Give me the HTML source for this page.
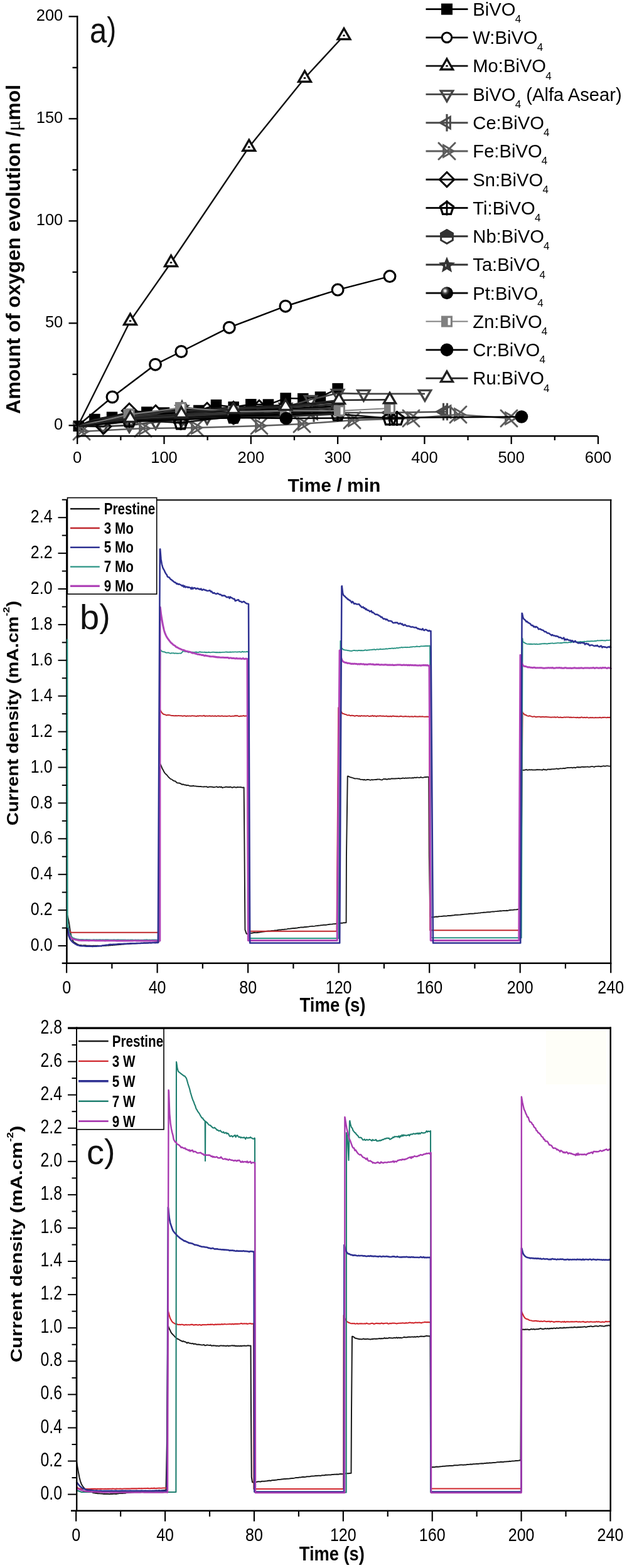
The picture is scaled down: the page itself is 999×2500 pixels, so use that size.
<!DOCTYPE html>
<html lang="en"><head><meta charset="utf-8"><title>Figure</title>
<style>
html,body{margin:0;padding:0;background:#fff}
svg{display:block}
text{font-family:"Liberation Sans",Arial,sans-serif}
</style></head><body>
<svg width="999" height="2500" viewBox="0 0 999 2500">
<defs>
<radialGradient id="ballg" cx="0.36" cy="0.32" r="0.62"><stop offset="0" stop-color="#fff"/><stop offset="0.12" stop-color="#ddd"/><stop offset="0.3" stop-color="#555"/><stop offset="0.55" stop-color="#111"/><stop offset="1" stop-color="#000"/></radialGradient>
</defs>
<rect width="999" height="2500" fill="#fff"/>
<polyline points="125.27,679.3 150.86,668.52 178.52,665.26 206.18,660.37 233.84,657.11 261.5,658.09 289.16,652.22 316.82,654.5 344.48,645.7 372.14,648.96 399.8,644.72 427.46,645.05 455.12,634.94 482.78,635.59 510.44,632.99 538.1,619.62" fill="none" stroke="#000" stroke-width="2.5" stroke-linejoin="round"/><rect x="116.52" y="670.55" width="17.5" height="17.5" fill="#000"/><rect x="142.11" y="659.77" width="17.5" height="17.5" fill="#000"/><rect x="169.77" y="656.51" width="17.5" height="17.5" fill="#000"/><rect x="197.43" y="651.62" width="17.5" height="17.5" fill="#000"/><rect x="225.09" y="648.36" width="17.5" height="17.5" fill="#000"/><rect x="252.75" y="649.34" width="17.5" height="17.5" fill="#000"/><rect x="280.41" y="643.47" width="17.5" height="17.5" fill="#000"/><rect x="308.07" y="645.75" width="17.5" height="17.5" fill="#000"/><rect x="335.73" y="636.95" width="17.5" height="17.5" fill="#000"/><rect x="363.39" y="640.21" width="17.5" height="17.5" fill="#000"/><rect x="391.05" y="635.97" width="17.5" height="17.5" fill="#000"/><rect x="418.71" y="636.3" width="17.5" height="17.5" fill="#000"/><rect x="446.37" y="626.19" width="17.5" height="17.5" fill="#000"/><rect x="474.03" y="626.84" width="17.5" height="17.5" fill="#000"/><rect x="501.69" y="624.24" width="17.5" height="17.5" fill="#000"/><rect x="529.35" y="610.87" width="17.5" height="17.5" fill="#000"/>
<polyline points="125.27,679.3 164,680 206,678 248,673 289,669 330,665 372,661 413,656 455,649 495,637 538,627 579.4,627.9 677,627.9" fill="none" stroke="#444" stroke-width="2.8" stroke-linejoin="round"/><polygon points="164,691.14 154.35,674.43 173.65,674.43" fill="none" stroke="#444" stroke-width="3.4" stroke-linejoin="miter"/><polygon points="206,689.14 196.35,672.43 215.65,672.43" fill="none" stroke="#444" stroke-width="3.4" stroke-linejoin="miter"/><polygon points="248,684.14 238.35,667.43 257.65,667.43" fill="none" stroke="#444" stroke-width="3.4" stroke-linejoin="miter"/><polygon points="289,680.14 279.35,663.43 298.65,663.43" fill="none" stroke="#444" stroke-width="3.4" stroke-linejoin="miter"/><polygon points="330,676.14 320.35,659.43 339.65,659.43" fill="none" stroke="#444" stroke-width="3.4" stroke-linejoin="miter"/><polygon points="372,672.14 362.35,655.43 381.65,655.43" fill="none" stroke="#444" stroke-width="3.4" stroke-linejoin="miter"/><polygon points="413,667.14 403.35,650.43 422.65,650.43" fill="none" stroke="#444" stroke-width="3.4" stroke-linejoin="miter"/><polygon points="455,660.14 445.35,643.43 464.65,643.43" fill="none" stroke="#444" stroke-width="3.4" stroke-linejoin="miter"/><polygon points="495,648.14 485.35,631.43 504.65,631.43" fill="none" stroke="#444" stroke-width="3.4" stroke-linejoin="miter"/><polygon points="538,638.14 528.35,621.43 547.65,621.43" fill="none" stroke="#444" stroke-width="3.4" stroke-linejoin="miter"/><polygon points="579.4,639.04 569.75,622.33 589.05,622.33" fill="none" stroke="#444" stroke-width="3.4" stroke-linejoin="miter"/><polygon points="677,639.04 667.35,622.33 686.65,622.33" fill="none" stroke="#444" stroke-width="3.4" stroke-linejoin="miter"/>
<polyline points="125.27,679.3 164,676 206,672 289,668 372,664 455,660 500,659 538,658 620,658 706.5,656.5 712.5,656.5" fill="none" stroke="#4a4a4a" stroke-width="2.5" stroke-linejoin="round"/><polygon points="195.43,672 211.28,662.85 211.28,681.15" fill="none" stroke="#4a4a4a" stroke-width="3.2" stroke-linejoin="miter"/><line x1="206" y1="658.2" x2="206" y2="685.8" stroke="#4a4a4a" stroke-width="3.2"/><polygon points="278.43,668 294.28,658.85 294.28,677.15" fill="none" stroke="#4a4a4a" stroke-width="3.2" stroke-linejoin="miter"/><line x1="289" y1="654.2" x2="289" y2="681.8" stroke="#4a4a4a" stroke-width="3.2"/><polygon points="361.43,664 377.28,654.85 377.28,673.15" fill="none" stroke="#4a4a4a" stroke-width="3.2" stroke-linejoin="miter"/><line x1="372" y1="650.2" x2="372" y2="677.8" stroke="#4a4a4a" stroke-width="3.2"/><polygon points="444.43,660 460.28,650.85 460.28,669.15" fill="none" stroke="#4a4a4a" stroke-width="3.2" stroke-linejoin="miter"/><line x1="455" y1="646.2" x2="455" y2="673.8" stroke="#4a4a4a" stroke-width="3.2"/><polygon points="489.43,659 505.28,649.85 505.28,668.15" fill="none" stroke="#4a4a4a" stroke-width="3.2" stroke-linejoin="miter"/><line x1="500" y1="645.2" x2="500" y2="672.8" stroke="#4a4a4a" stroke-width="3.2"/><polygon points="527.43,658 543.28,648.85 543.28,667.15" fill="none" stroke="#4a4a4a" stroke-width="3.2" stroke-linejoin="miter"/><line x1="538" y1="644.2" x2="538" y2="671.8" stroke="#4a4a4a" stroke-width="3.2"/><polygon points="609.43,658 625.28,648.85 625.28,667.15" fill="none" stroke="#4a4a4a" stroke-width="3.2" stroke-linejoin="miter"/><line x1="620" y1="644.2" x2="620" y2="671.8" stroke="#4a4a4a" stroke-width="3.2"/><polygon points="695.93,656.5 711.78,647.35 711.78,665.65" fill="none" stroke="#4a4a4a" stroke-width="3.2" stroke-linejoin="miter"/><line x1="706.5" y1="642.7" x2="706.5" y2="670.3" stroke="#4a4a4a" stroke-width="3.2"/><polygon points="701.93,656.5 717.78,647.35 717.78,665.65" fill="none" stroke="#4a4a4a" stroke-width="3.2" stroke-linejoin="miter"/><line x1="712.5" y1="642.7" x2="712.5" y2="670.3" stroke="#4a4a4a" stroke-width="3.2"/>
<polyline points="125.27,679.3 130,688 228,683 311,682 413,679 481,676 561,670 655,667 730,661 811,667" fill="none" stroke="#5c5c5c" stroke-width="2.5" stroke-linejoin="round"/><polygon points="140.68,688 124.66,697.25 124.66,678.75" fill="none" stroke="#5c5c5c" stroke-width="3" stroke-linejoin="miter"/><line x1="117" y1="675" x2="143" y2="701" stroke="#5c5c5c" stroke-width="3" stroke-linecap="round"/><line x1="117" y1="701" x2="143" y2="675" stroke="#5c5c5c" stroke-width="3" stroke-linecap="round"/><polygon points="238.68,683 222.66,692.25 222.66,673.75" fill="none" stroke="#5c5c5c" stroke-width="3" stroke-linejoin="miter"/><line x1="215" y1="670" x2="241" y2="696" stroke="#5c5c5c" stroke-width="3" stroke-linecap="round"/><line x1="215" y1="696" x2="241" y2="670" stroke="#5c5c5c" stroke-width="3" stroke-linecap="round"/><polygon points="321.68,682 305.66,691.25 305.66,672.75" fill="none" stroke="#5c5c5c" stroke-width="3" stroke-linejoin="miter"/><line x1="298" y1="669" x2="324" y2="695" stroke="#5c5c5c" stroke-width="3" stroke-linecap="round"/><line x1="298" y1="695" x2="324" y2="669" stroke="#5c5c5c" stroke-width="3" stroke-linecap="round"/><polygon points="423.68,679 407.66,688.25 407.66,669.75" fill="none" stroke="#5c5c5c" stroke-width="3" stroke-linejoin="miter"/><line x1="400" y1="666" x2="426" y2="692" stroke="#5c5c5c" stroke-width="3" stroke-linecap="round"/><line x1="400" y1="692" x2="426" y2="666" stroke="#5c5c5c" stroke-width="3" stroke-linecap="round"/><polygon points="491.68,676 475.66,685.25 475.66,666.75" fill="none" stroke="#5c5c5c" stroke-width="3" stroke-linejoin="miter"/><line x1="468" y1="663" x2="494" y2="689" stroke="#5c5c5c" stroke-width="3" stroke-linecap="round"/><line x1="468" y1="689" x2="494" y2="663" stroke="#5c5c5c" stroke-width="3" stroke-linecap="round"/><polygon points="571.68,670 555.66,679.25 555.66,660.75" fill="none" stroke="#5c5c5c" stroke-width="3" stroke-linejoin="miter"/><line x1="548" y1="657" x2="574" y2="683" stroke="#5c5c5c" stroke-width="3" stroke-linecap="round"/><line x1="548" y1="683" x2="574" y2="657" stroke="#5c5c5c" stroke-width="3" stroke-linecap="round"/><polygon points="665.68,667 649.66,676.25 649.66,657.75" fill="none" stroke="#5c5c5c" stroke-width="3" stroke-linejoin="miter"/><line x1="642" y1="654" x2="668" y2="680" stroke="#5c5c5c" stroke-width="3" stroke-linecap="round"/><line x1="642" y1="680" x2="668" y2="654" stroke="#5c5c5c" stroke-width="3" stroke-linecap="round"/><polygon points="740.68,661 724.66,670.25 724.66,651.75" fill="none" stroke="#5c5c5c" stroke-width="3" stroke-linejoin="miter"/><line x1="717" y1="648" x2="743" y2="674" stroke="#5c5c5c" stroke-width="3" stroke-linecap="round"/><line x1="717" y1="674" x2="743" y2="648" stroke="#5c5c5c" stroke-width="3" stroke-linecap="round"/><polygon points="821.68,667 805.66,676.25 805.66,657.75" fill="none" stroke="#5c5c5c" stroke-width="3" stroke-linejoin="miter"/><line x1="798" y1="654" x2="824" y2="680" stroke="#5c5c5c" stroke-width="3" stroke-linecap="round"/><line x1="798" y1="680" x2="824" y2="654" stroke="#5c5c5c" stroke-width="3" stroke-linecap="round"/>
<polyline points="125.27,679.3 165,680 206,655 248,658 289,655 330,654 372,652 413,650 455,648" fill="none" stroke="#111" stroke-width="2.5" stroke-linejoin="round"/><polygon points="165,668.3 176.7,680 165,691.7 153.3,680" fill="none" stroke="#000" stroke-width="3" stroke-linejoin="miter"/><polygon points="206,643.3 217.7,655 206,666.7 194.3,655" fill="none" stroke="#000" stroke-width="3" stroke-linejoin="miter"/><polygon points="248,646.3 259.7,658 248,669.7 236.3,658" fill="none" stroke="#000" stroke-width="3" stroke-linejoin="miter"/><polygon points="289,643.3 300.7,655 289,666.7 277.3,655" fill="none" stroke="#000" stroke-width="3" stroke-linejoin="miter"/><polygon points="330,642.3 341.7,654 330,665.7 318.3,654" fill="none" stroke="#000" stroke-width="3" stroke-linejoin="miter"/><polygon points="372,640.3 383.7,652 372,663.7 360.3,652" fill="none" stroke="#000" stroke-width="3" stroke-linejoin="miter"/><polygon points="413,638.3 424.7,650 413,661.7 401.3,650" fill="none" stroke="#000" stroke-width="3" stroke-linejoin="miter"/><polygon points="455,636.3 466.7,648 455,659.7 443.3,648" fill="none" stroke="#000" stroke-width="3" stroke-linejoin="miter"/>
<polyline points="125.27,679.3 206,670 288,674 372,664 455,662 538,660 621,667 632.5,667" fill="none" stroke="#111" stroke-width="2.5" stroke-linejoin="round"/><polygon points="206,660 216.46,667.6 212.47,679.9 199.53,679.9 195.54,667.6" fill="none" stroke="#000" stroke-width="3.3" stroke-linejoin="miter" stroke-linejoin="round"/><line x1="194" y1="670" x2="218" y2="670" stroke="#000" stroke-width="2.8"/><line x1="206" y1="658" x2="206" y2="682" stroke="#000" stroke-width="2.8"/><polygon points="288,664 298.46,671.6 294.47,683.9 281.53,683.9 277.54,671.6" fill="none" stroke="#000" stroke-width="3.3" stroke-linejoin="miter" stroke-linejoin="round"/><line x1="276" y1="674" x2="300" y2="674" stroke="#000" stroke-width="2.8"/><line x1="288" y1="662" x2="288" y2="686" stroke="#000" stroke-width="2.8"/><polygon points="372,654 382.46,661.6 378.47,673.9 365.53,673.9 361.54,661.6" fill="none" stroke="#000" stroke-width="3.3" stroke-linejoin="miter" stroke-linejoin="round"/><line x1="360" y1="664" x2="384" y2="664" stroke="#000" stroke-width="2.8"/><line x1="372" y1="652" x2="372" y2="676" stroke="#000" stroke-width="2.8"/><polygon points="455,652 465.46,659.6 461.47,671.9 448.53,671.9 444.54,659.6" fill="none" stroke="#000" stroke-width="3.3" stroke-linejoin="miter" stroke-linejoin="round"/><line x1="443" y1="662" x2="467" y2="662" stroke="#000" stroke-width="2.8"/><line x1="455" y1="650" x2="455" y2="674" stroke="#000" stroke-width="2.8"/><polygon points="538,650 548.46,657.6 544.47,669.9 531.53,669.9 527.54,657.6" fill="none" stroke="#000" stroke-width="3.3" stroke-linejoin="miter" stroke-linejoin="round"/><line x1="526" y1="660" x2="550" y2="660" stroke="#000" stroke-width="2.8"/><line x1="538" y1="648" x2="538" y2="672" stroke="#000" stroke-width="2.8"/><polygon points="621,657 631.46,664.6 627.47,676.9 614.53,676.9 610.54,664.6" fill="none" stroke="#000" stroke-width="3.3" stroke-linejoin="miter" stroke-linejoin="round"/><line x1="609" y1="667" x2="633" y2="667" stroke="#000" stroke-width="2.8"/><line x1="621" y1="655" x2="621" y2="679" stroke="#000" stroke-width="2.8"/><polygon points="632.5,657 642.96,664.6 638.97,676.9 626.03,676.9 622.04,664.6" fill="none" stroke="#000" stroke-width="3.3" stroke-linejoin="miter" stroke-linejoin="round"/><line x1="620.5" y1="667" x2="644.5" y2="667" stroke="#000" stroke-width="2.8"/><line x1="632.5" y1="655" x2="632.5" y2="679" stroke="#000" stroke-width="2.8"/>
<polyline points="125.27,679.3 135,675 150,669 178,664 206,658 248,656 289,653 330,652 372,650 413,648 455,646 495,644 538,641" fill="none" stroke="#111" stroke-width="3" stroke-linejoin="round"/>
<polyline points="125.27,679.3 135,675.67 150,670.33 178,665.83 206,660.33 248,658.33 289,655.5 330,654.5 372,652.67 413,650.83 455,649 495,647 538,644.17" fill="none" stroke="#2a2a2a" stroke-width="3" stroke-linejoin="round"/>
<polyline points="125.27,679.3 135,676.33 150,671.67 178,667.67 206,662.67 248,660.67 289,658 330,657 372,655.33 413,653.67 455,652 495,650 538,647.33" fill="none" stroke="#000" stroke-width="3" stroke-linejoin="round"/>
<polyline points="125.27,679.3 135,677 150,673 178,669.5 206,665 248,663 289,660.5 330,659.5 372,658 413,656.5 455,655 495,653 538,650.5" fill="none" stroke="#333" stroke-width="3" stroke-linejoin="round"/>
<polyline points="125.27,679.3 135,677.67 150,674.33 178,671.33 206,667.33 248,665.33 289,663 330,662 372,660.67 413,659.33 455,658 495,656 538,653.67" fill="none" stroke="#1a1a1a" stroke-width="3" stroke-linejoin="round"/>
<polyline points="125.27,679.3 135,678.33 150,675.67 178,673.17 206,669.67 248,667.67 289,665.5 330,664.5 372,663.33 413,662.17 455,661 495,659 538,656.83" fill="none" stroke="#000" stroke-width="3" stroke-linejoin="round"/>
<polyline points="125.27,679.3 135,679 150,677 178,675 206,672 248,670 289,668 330,667 372,666 413,665 455,664 495,662 538,660" fill="none" stroke="#2a2a2a" stroke-width="3" stroke-linejoin="round"/>
<polyline points="125.27,679.3 206,668 289,664 372,659 455,654 538,650" fill="none" stroke="#333" stroke-width="2.5" stroke-linejoin="round"/><polygon points="455,644 464.35,649.4 464.35,660.2 455,665.6 445.65,660.2 445.65,649.4" fill="#fff" stroke="#333" stroke-width="3" stroke-linejoin="miter"/><polygon points="445.65,654.8 445.65,649.4 455,644 464.35,649.4 464.35,654.8" fill="#333" stroke="#333" stroke-width="3" stroke-linejoin="miter"/><polygon points="538,640 547.35,645.4 547.35,656.2 538,661.6 528.65,656.2 528.65,645.4" fill="#fff" stroke="#333" stroke-width="3" stroke-linejoin="miter"/><polygon points="528.65,650.8 528.65,645.4 538,640 547.35,645.4 547.35,650.8" fill="#333" stroke="#333" stroke-width="3" stroke-linejoin="miter"/>
<polyline points="125.27,679.3 164,674 206,663 248,660 290,649 330,654 372,651 413,650 455,648 495,646" fill="none" stroke="#333" stroke-width="2.5" stroke-linejoin="round"/>
<polygon points="290,638.2 293.12,645.7 301.22,646.35 295.05,651.64 296.94,659.55 290,655.31 283.06,659.55 284.95,651.64 278.78,646.35 286.88,645.7" fill="#333" stroke="#333" stroke-width="1.5" stroke-linejoin="miter"/><rect x="287.5" y="648" width="1.6" height="4" fill="#ccc"/>
<polyline points="125.27,679.3 206,671 289,666 372,662 455,658 538,654" fill="none" stroke="#111" stroke-width="2.5" stroke-linejoin="round"/><circle cx="455" cy="658" r="10" fill="url(#ballg)"/><circle cx="538" cy="654" r="10" fill="url(#ballg)"/>
<polyline points="125.27,679.3 205.5,661 288,650 372,656 455,655 541,655 621,651" fill="none" stroke="#808080" stroke-width="2.2" stroke-linejoin="round"/><rect x="196.5" y="652" width="18" height="18" fill="#808080"/><rect x="207.1" y="655.3" width="4.2" height="11.5" fill="#fff"/><rect x="279" y="641" width="18" height="18" fill="#808080"/><rect x="289.6" y="644.3" width="4.2" height="11.5" fill="#fff"/><rect x="363" y="647" width="18" height="18" fill="#808080"/><rect x="373.6" y="650.3" width="4.2" height="11.5" fill="#fff"/><rect x="446" y="646" width="18" height="18" fill="#808080"/><rect x="456.6" y="649.3" width="4.2" height="11.5" fill="#fff"/><rect x="532" y="646" width="18" height="18" fill="#808080"/><rect x="542.6" y="649.3" width="4.2" height="11.5" fill="#fff"/><rect x="612" y="642" width="18" height="18" fill="#808080"/><rect x="622.6" y="645.3" width="4.2" height="11.5" fill="#fff"/>
<polyline points="125.27,679.3 206,672 289,669 373,666 456,667 831,664.5" fill="none" stroke="#000" stroke-width="2.5" stroke-linejoin="round"/><circle cx="373" cy="666" r="10.3" fill="#000"/><circle cx="456" cy="667" r="10.3" fill="#000"/><circle cx="831" cy="664.5" r="10.3" fill="#000"/>
<polyline points="125.27,679.3 207.5,667 289,660 372,653 455,648 540,638 621,637.3" fill="none" stroke="#222" stroke-width="2.5" stroke-linejoin="round"/><polygon points="207.5,656.03 217,672.48 198,672.48" fill="#fff" stroke="#222" stroke-width="3.4" stroke-linejoin="miter"/><polygon points="289,649.03 298.5,665.48 279.5,665.48" fill="#fff" stroke="#222" stroke-width="3.4" stroke-linejoin="miter"/><polygon points="372,642.03 381.5,658.48 362.5,658.48" fill="#fff" stroke="#222" stroke-width="3.4" stroke-linejoin="miter"/><polygon points="455,637.03 464.5,653.48 445.5,653.48" fill="#fff" stroke="#222" stroke-width="3.4" stroke-linejoin="miter"/><polygon points="540,627.03 549.5,643.48 530.5,643.48" fill="#fff" stroke="#222" stroke-width="3.4" stroke-linejoin="miter"/><polygon points="621,626.33 630.5,642.78 611.5,642.78" fill="#fff" stroke="#222" stroke-width="3.4" stroke-linejoin="miter"/>
<polyline points="124.58,678.3 179,633 247.5,581.2 288.75,560.5 365.3,522.2 454.9,488.2 538.1,462.1 621,440.6" fill="none" stroke="#000" stroke-width="2.5" stroke-linejoin="round"/><circle cx="179" cy="633" r="8.9" fill="#fff" stroke="#000" stroke-width="3.2"/><circle cx="247.5" cy="581.2" r="8.9" fill="#fff" stroke="#000" stroke-width="3.2"/><circle cx="288.75" cy="560.5" r="8.9" fill="#fff" stroke="#000" stroke-width="3.2"/><circle cx="365.3" cy="522.2" r="8.9" fill="#fff" stroke="#000" stroke-width="3.2"/><circle cx="454.9" cy="488.2" r="8.9" fill="#fff" stroke="#000" stroke-width="3.2"/><circle cx="538.1" cy="462.1" r="8.9" fill="#fff" stroke="#000" stroke-width="3.2"/><circle cx="621" cy="440.6" r="8.9" fill="#fff" stroke="#000" stroke-width="3.2"/>
<polyline points="124.58,678.3 207.5,511.75 272.5,418.75 396.75,234.5 485.5,124.5 548,56.75" fill="none" stroke="#111" stroke-width="2.5" stroke-linejoin="round"/><polygon points="207.5,500.32 217.4,517.47 197.6,517.47" fill="#fff" stroke="#111" stroke-width="3.4" stroke-linejoin="miter"/><ellipse cx="207.5" cy="511.75" rx="2" ry="1.4" fill="#111"/><polygon points="272.5,407.32 282.4,424.47 262.6,424.47" fill="#fff" stroke="#111" stroke-width="3.4" stroke-linejoin="miter"/><ellipse cx="272.5" cy="418.75" rx="2" ry="1.4" fill="#111"/><polygon points="396.75,223.07 406.65,240.22 386.85,240.22" fill="#fff" stroke="#111" stroke-width="3.4" stroke-linejoin="miter"/><ellipse cx="396.75" cy="234.5" rx="2" ry="1.4" fill="#111"/><polygon points="485.5,113.07 495.4,130.22 475.6,130.22" fill="#fff" stroke="#111" stroke-width="3.4" stroke-linejoin="miter"/><ellipse cx="485.5" cy="124.5" rx="2" ry="1.4" fill="#111"/><polygon points="548,45.32 557.9,62.47 538.1,62.47" fill="#fff" stroke="#111" stroke-width="3.4" stroke-linejoin="miter"/><ellipse cx="548" cy="56.75" rx="2" ry="1.4" fill="#111"/>
<line x1="123.2" y1="25" x2="123.2" y2="696.5" stroke="#000" stroke-width="2.5"/>
<line x1="122" y1="695.3" x2="952.5" y2="695.3" stroke="#000" stroke-width="2.5"/>
<line x1="109.5" y1="678.3" x2="123.2" y2="678.3" stroke="#000" stroke-width="2.3"/>
<text x="100.3" y="685.2" font-size="25.5" font-weight="normal" text-anchor="end" fill="#000">0</text>
<line x1="115.5" y1="596.8" x2="123.2" y2="596.8" stroke="#000" stroke-width="2.3"/>
<line x1="109.5" y1="515.3" x2="123.2" y2="515.3" stroke="#000" stroke-width="2.3"/>
<text x="100.3" y="522.2" font-size="25.5" font-weight="normal" text-anchor="end" fill="#000">50</text>
<line x1="115.5" y1="433.8" x2="123.2" y2="433.8" stroke="#000" stroke-width="2.3"/>
<line x1="109.5" y1="352.3" x2="123.2" y2="352.3" stroke="#000" stroke-width="2.3"/>
<text x="100.3" y="359.2" font-size="25.5" font-weight="normal" text-anchor="end" fill="#000">100</text>
<line x1="115.5" y1="270.8" x2="123.2" y2="270.8" stroke="#000" stroke-width="2.3"/>
<line x1="109.5" y1="189.3" x2="123.2" y2="189.3" stroke="#000" stroke-width="2.3"/>
<text x="100.3" y="196.2" font-size="25.5" font-weight="normal" text-anchor="end" fill="#000">150</text>
<line x1="115.5" y1="107.8" x2="123.2" y2="107.8" stroke="#000" stroke-width="2.3"/>
<line x1="109.5" y1="26.3" x2="123.2" y2="26.3" stroke="#000" stroke-width="2.3"/>
<text x="100.3" y="33.2" font-size="25.5" font-weight="normal" text-anchor="end" fill="#000">200</text>
<line x1="123.2" y1="695.3" x2="123.2" y2="708" stroke="#000" stroke-width="2.3"/>
<text x="123.2" y="737.6" font-size="25.5" font-weight="normal" text-anchor="middle" fill="#000">0</text>
<line x1="192.35" y1="695.3" x2="192.35" y2="702" stroke="#000" stroke-width="2.3"/>
<line x1="261.5" y1="695.3" x2="261.5" y2="708" stroke="#000" stroke-width="2.3"/>
<text x="261.5" y="737.6" font-size="25.5" font-weight="normal" text-anchor="middle" fill="#000">100</text>
<line x1="330.65" y1="695.3" x2="330.65" y2="702" stroke="#000" stroke-width="2.3"/>
<line x1="399.8" y1="695.3" x2="399.8" y2="708" stroke="#000" stroke-width="2.3"/>
<text x="399.8" y="737.6" font-size="25.5" font-weight="normal" text-anchor="middle" fill="#000">200</text>
<line x1="468.95" y1="695.3" x2="468.95" y2="702" stroke="#000" stroke-width="2.3"/>
<line x1="538.1" y1="695.3" x2="538.1" y2="708" stroke="#000" stroke-width="2.3"/>
<text x="538.1" y="737.6" font-size="25.5" font-weight="normal" text-anchor="middle" fill="#000">300</text>
<line x1="607.25" y1="695.3" x2="607.25" y2="702" stroke="#000" stroke-width="2.3"/>
<line x1="676.4" y1="695.3" x2="676.4" y2="708" stroke="#000" stroke-width="2.3"/>
<text x="676.4" y="737.6" font-size="25.5" font-weight="normal" text-anchor="middle" fill="#000">400</text>
<line x1="745.55" y1="695.3" x2="745.55" y2="702" stroke="#000" stroke-width="2.3"/>
<line x1="814.7" y1="695.3" x2="814.7" y2="708" stroke="#000" stroke-width="2.3"/>
<text x="814.7" y="737.6" font-size="25.5" font-weight="normal" text-anchor="middle" fill="#000">500</text>
<line x1="883.85" y1="695.3" x2="883.85" y2="702" stroke="#000" stroke-width="2.3"/>
<line x1="953" y1="695.3" x2="953" y2="708" stroke="#000" stroke-width="2.3"/>
<text x="953" y="737.6" font-size="25.5" font-weight="normal" text-anchor="middle" fill="#000">600</text>
<text x="532.5" y="783.8" font-size="30" font-weight="bold" text-anchor="middle" fill="#000">Time / min</text>
<text transform="translate(32,397.4) rotate(-90)" font-size="32.1" font-weight="bold" text-anchor="middle">Amount of oxygen evolution /<tspan font-family="'Liberation Serif', serif" font-weight="normal">μ</tspan>mol</text>
<text transform="translate(143,67.5) scale(0.86,1)" font-size="57" fill="#111">a<tspan font-size="52" dy="-3.5">)</tspan></text>
<line x1="678.5" y1="14.6" x2="745.5" y2="14.6" stroke="#000" stroke-width="2.9"/>
<rect x="703" y="5.6" width="18" height="18" fill="#000"/>
<text x="753.3" y="24.9" font-size="29.2">BiVO<tspan font-size="17" dy="11.2" dx="-0.8">4</tspan></text>
<line x1="678.5" y1="59.87" x2="745.5" y2="59.87" stroke="#000" stroke-width="2.9"/>
<circle cx="712" cy="59.87" r="7.8" fill="#fff" stroke="#000" stroke-width="3.1"/>
<text x="753.3" y="70.17" font-size="29.2">W:BiVO<tspan font-size="17" dy="11.2" dx="-0.8">4</tspan></text>
<line x1="678.5" y1="105.14" x2="745.5" y2="105.14" stroke="#111" stroke-width="2.9"/>
<polygon points="712,94 721.65,110.71 702.35,110.71" fill="#fff" stroke="#111" stroke-width="3.4" stroke-linejoin="miter"/><ellipse cx="712" cy="105.14" rx="2" ry="1.4" fill="#111"/>
<text x="753.3" y="115.44" font-size="29.2">Mo:BiVO<tspan font-size="17" dy="11.2" dx="-0.8">4</tspan></text>
<line x1="678.5" y1="150.41" x2="745.5" y2="150.41" stroke="#444" stroke-width="2.9"/>
<polygon points="712,161.55 702.35,144.84 721.65,144.84" fill="none" stroke="#444" stroke-width="3.4" stroke-linejoin="miter"/>
<text x="753.3" y="160.71" font-size="29.2">BiVO<tspan font-size="17" dy="11.2" dx="-0.8">4</tspan><tspan dy="-11.2"> (Alfa Asear)</tspan></text>
<line x1="678.5" y1="195.68" x2="745.5" y2="195.68" stroke="#4a4a4a" stroke-width="2.9"/>
<polygon points="701.43,195.68 717.28,186.53 717.28,204.83" fill="none" stroke="#4a4a4a" stroke-width="3.2" stroke-linejoin="miter"/><line x1="712" y1="181.88" x2="712" y2="209.48" stroke="#4a4a4a" stroke-width="3.2"/>
<text x="753.3" y="205.98" font-size="29.2">Ce:BiVO<tspan font-size="17" dy="11.2" dx="-0.8">4</tspan></text>
<line x1="678.5" y1="240.95" x2="745.5" y2="240.95" stroke="#5c5c5c" stroke-width="2.9"/>
<polygon points="722.68,240.95 706.66,250.2 706.66,231.7" fill="none" stroke="#5c5c5c" stroke-width="3" stroke-linejoin="miter"/><line x1="699" y1="227.95" x2="725" y2="253.95" stroke="#5c5c5c" stroke-width="3" stroke-linecap="round"/><line x1="699" y1="253.95" x2="725" y2="227.95" stroke="#5c5c5c" stroke-width="3" stroke-linecap="round"/>
<text x="753.3" y="251.25" font-size="29.2">Fe:BiVO<tspan font-size="17" dy="11.2" dx="-0.8">4</tspan></text>
<line x1="678.5" y1="286.22" x2="745.5" y2="286.22" stroke="#111" stroke-width="2.9"/>
<polygon points="712,274.52 723.7,286.22 712,297.92 700.3,286.22" fill="none" stroke="#000" stroke-width="3" stroke-linejoin="miter"/>
<text x="753.3" y="296.52" font-size="29.2">Sn:BiVO<tspan font-size="17" dy="11.2" dx="-0.8">4</tspan></text>
<line x1="678.5" y1="331.49" x2="745.5" y2="331.49" stroke="#111" stroke-width="2.9"/>
<polygon points="712,321.49 722.46,329.09 718.47,341.39 705.53,341.39 701.54,329.09" fill="none" stroke="#000" stroke-width="3.3" stroke-linejoin="miter" stroke-linejoin="round"/><line x1="700" y1="331.49" x2="724" y2="331.49" stroke="#000" stroke-width="2.8"/><line x1="712" y1="319.49" x2="712" y2="343.49" stroke="#000" stroke-width="2.8"/>
<text x="753.3" y="341.79" font-size="29.2">Ti:BiVO<tspan font-size="17" dy="11.2" dx="-0.8">4</tspan></text>
<line x1="678.5" y1="376.76" x2="745.5" y2="376.76" stroke="#333" stroke-width="2.9"/>
<polygon points="712,366.76 721.35,372.16 721.35,382.96 712,388.36 702.65,382.96 702.65,372.16" fill="#fff" stroke="#333" stroke-width="3" stroke-linejoin="miter"/><polygon points="702.65,377.56 702.65,372.16 712,366.76 721.35,372.16 721.35,377.56" fill="#333" stroke="#333" stroke-width="3" stroke-linejoin="miter"/>
<text x="753.3" y="387.06" font-size="29.2">Nb:BiVO<tspan font-size="17" dy="11.2" dx="-0.8">4</tspan></text>
<line x1="678.5" y1="422.03" x2="745.5" y2="422.03" stroke="#333" stroke-width="2.9"/>
<polygon points="712,411.23 715.12,418.73 723.22,419.38 717.05,424.67 718.94,432.58 712,428.34 705.06,432.58 706.95,424.67 700.78,419.38 708.88,418.73" fill="#333" stroke="#333" stroke-width="1.5" stroke-linejoin="miter"/><rect x="709.5" y="421.03" width="1.6" height="4" fill="#ccc"/>
<text x="753.3" y="432.33" font-size="29.2">Ta:BiVO<tspan font-size="17" dy="11.2" dx="-0.8">4</tspan></text>
<line x1="678.5" y1="467.3" x2="745.5" y2="467.3" stroke="#111" stroke-width="2.9"/>
<circle cx="712" cy="467.3" r="10" fill="url(#ballg)"/>
<text x="753.3" y="477.6" font-size="29.2">Pt:BiVO<tspan font-size="17" dy="11.2" dx="-0.8">4</tspan></text>
<line x1="678.5" y1="512.57" x2="745.5" y2="512.57" stroke="#808080" stroke-width="2"/>
<rect x="703" y="503.57" width="18" height="18" fill="#808080"/><rect x="713.6" y="506.87" width="4.2" height="11.5" fill="#fff"/>
<text x="753.3" y="522.87" font-size="29.2">Zn:BiVO<tspan font-size="17" dy="11.2" dx="-0.8">4</tspan></text>
<line x1="678.5" y1="557.84" x2="745.5" y2="557.84" stroke="#000" stroke-width="2.9"/>
<circle cx="712" cy="557.84" r="10.3" fill="#000"/>
<text x="753.3" y="568.14" font-size="29.2">Cr:BiVO<tspan font-size="17" dy="11.2" dx="-0.8">4</tspan></text>
<line x1="678.5" y1="603.11" x2="745.5" y2="603.11" stroke="#222" stroke-width="2.9"/>
<polygon points="712,592.14 721.5,608.59 702.5,608.59" fill="#fff" stroke="#222" stroke-width="3.4" stroke-linejoin="miter"/>
<text x="753.3" y="613.41" font-size="29.2">Ru:BiVO<tspan font-size="17" dy="11.2" dx="-0.8">4</tspan></text>
<polyline points="107.5,1459.45 109,1466.23 110.5,1474.26 112,1485.31 113.5,1492.45 115,1497.11 116.5,1500.48 118,1502.47 119.5,1503.2 121,1504.12 122.5,1505.21 124,1505.84 125.5,1506.54 127,1506.86 128.5,1506.98 130,1507.11 131.5,1507.62 133,1507.27 134.5,1507.28 136,1507.3 137.5,1507.55 139,1507.62 140.5,1507.6 142,1507.7 143.5,1507.8 145,1507.9 146.5,1508 148,1507.91 149.5,1507.64 151,1508.04 152.5,1507.74 154,1507.94 155.5,1507.76 157,1507.99 158.5,1507.88 160,1508.03 161.5,1508.49 163,1507.96 164.5,1508.05 166,1507.68 167.5,1507.76 169,1507.83 170.5,1507.63 172,1507.6 173.5,1507.45 175,1507.17 176.5,1507.28 178,1506.94 179.5,1507.21 181,1506.72 182.5,1506.76 184,1506.51 185.5,1506.51 187,1506.14 188.5,1506.24 190,1505.93 191.5,1506 193,1505.77 194.5,1505.58 196,1505.32 197.5,1505.44 199,1505.29 200.5,1505.37 202,1504.98 203.5,1505.03 205,1504.93 206.5,1504.81 208,1504.71 209.5,1504.62 211,1504.42 212.5,1504.27 214,1504.28 215.5,1504.35 217,1504.4 218.5,1504.24 220,1504.17 221.5,1504.05 223,1503.96 224.5,1503.81 226,1503.82 227.5,1503.89 229,1503.5 230.5,1503.36 232,1503.69 233.5,1503.35 235,1503.38 236.5,1503.29 238,1502.91 239.5,1503.37 241,1503.2 242.5,1502.88 244,1502.89 245.5,1502.72 247,1502.48 248.5,1502.52 250,1502.52 251.5,1502.55 252.79,1502.31 254.23,1422.65 254.96,1216.39 255.32,1218.02 256.82,1221.13 258.32,1224.95 259.82,1227.53 261.32,1230.64 262.82,1232.83 264.32,1234.33 265.82,1235.64 267.32,1237.51 268.82,1239.3 270.32,1240.67 271.82,1242.12 273.32,1242.37 274.82,1243.63 276.32,1244.73 277.82,1245.33 279.32,1245.44 280.82,1247.12 282.32,1248.23 283.82,1248.43 285.32,1248.38 286.82,1249 288.32,1249.62 289.82,1250.71 291.32,1250.55 292.82,1250.77 294.32,1251.57 295.82,1251.42 297.32,1252.32 298.82,1251.86 300.32,1252.2 301.82,1252.81 303.32,1253.24 304.82,1253.21 306.32,1253.27 307.82,1252.78 309.32,1253.22 310.82,1253.36 312.32,1253.49 313.82,1253.92 315.32,1253.73 316.82,1254.16 318.32,1254.03 319.82,1253.98 321.32,1254.19 322.82,1254.36 324.32,1254.55 325.82,1254.21 327.32,1254.34 328.82,1254.06 330.32,1255 331.82,1255 333.32,1254.56 334.82,1254.51 336.32,1254.32 337.82,1254.78 339.32,1254.82 340.82,1255.45 342.32,1254.89 343.82,1254.61 345.32,1254.14 346.82,1255.32 348.32,1254.98 349.82,1254.46 351.32,1255.02 352.82,1254.5 354.32,1256.05 355.82,1255.36 357.32,1255.22 358.82,1255.01 360.32,1254.44 361.82,1255.06 363.32,1254.64 364.82,1255.3 366.32,1254.5 367.82,1254.88 369.32,1255.53 370.82,1255.68 372.32,1254.84 373.82,1254.75 375.32,1255.49 376.82,1255.5 378.32,1254.96 379.82,1255.06 381.32,1255.08 382.82,1254.94 384.32,1255.11 385.82,1255.71 387.32,1255.56 388.64,1255.36 389.36,1337.3 390.44,1482.39 392.61,1488.65 393.33,1488.96 395.33,1488.41 397.33,1488.17 399.33,1487.81 401.33,1487.71 403.33,1487.3 405.33,1487 407.33,1487.14 409.33,1487.02 411.33,1486.69 413.33,1486.54 415.33,1486.14 417.33,1485.76 419.33,1485.65 421.33,1485.35 423.33,1485 425.33,1484.68 427.33,1484.48 429.33,1484.47 431.33,1484.26 433.33,1483.94 435.33,1483.99 437.33,1483.57 439.33,1483.4 441.33,1483.27 443.33,1482.73 445.33,1482.33 447.33,1482.51 449.33,1482.06 451.33,1482.13 453.33,1481.76 455.33,1481.63 457.33,1481.37 459.33,1480.71 461.33,1480.91 463.33,1480.47 465.33,1480.24 467.33,1480.06 469.33,1480.02 471.33,1479.81 473.33,1479.61 475.33,1478.99 477.33,1478.93 479.33,1478.44 481.33,1478.56 483.33,1478.45 485.33,1478.03 487.33,1477.96 489.33,1477.74 491.33,1477.64 493.33,1477.15 495.33,1476.93 497.33,1476.72 499.33,1476.89 501.33,1476.57 503.33,1476.17 505.33,1476.01 507.33,1475.78 509.33,1475.58 511.33,1475.3 513.33,1475.07 515.33,1474.72 517.33,1474.59 519.33,1474.72 521.33,1474.34 523.33,1474.06 525.33,1473.8 527.33,1473.63 529.33,1473.46 531.33,1473.1 533.33,1473.01 535.33,1472.8 537.33,1472.44 539.33,1472.22 541.33,1471.97 543.33,1471.75 545.33,1471.82 547.33,1471.12 549.33,1471.22 551.33,1470.95 551.58,1471.02 551.94,1365.75 553.75,1237.72 554.83,1237.54 556.33,1238.29 557.83,1239.18 559.33,1239.45 560.83,1239.95 562.33,1240.31 563.83,1240.87 565.33,1241.48 566.83,1241.34 568.33,1241.36 569.83,1241.56 571.33,1241.83 572.83,1241.95 574.33,1242.9 575.83,1242.85 577.33,1242.84 578.83,1243.49 580.33,1242.98 581.83,1243.5 583.33,1243.59 584.83,1242.93 586.33,1242.95 587.83,1243.13 589.33,1243.67 590.83,1243.77 592.33,1242.98 593.83,1243.63 595.33,1243.16 596.83,1243.1 598.33,1243 599.83,1243.01 601.33,1242.49 602.83,1242.67 604.33,1242.52 605.83,1242.96 607.33,1243.36 608.83,1243.46 610.33,1242.46 611.83,1241.95 613.33,1242.25 614.83,1242 616.33,1242.79 617.83,1242.27 619.33,1241.79 620.83,1242.2 622.33,1241.99 623.83,1241.26 625.33,1241.5 626.83,1241.51 628.33,1241.51 629.83,1241.47 631.33,1241.26 632.83,1241.35 634.33,1241.04 635.83,1240.88 637.33,1241.53 638.83,1241.11 640.33,1241.06 641.83,1240.38 643.33,1240.74 644.83,1240.96 646.33,1240.26 647.83,1240.9 649.33,1240.38 650.83,1240.55 652.33,1240.32 653.83,1240.35 655.33,1240.57 656.83,1240.02 658.33,1240.53 659.83,1239.76 661.33,1239.64 662.83,1240.06 664.33,1239.45 665.83,1239.59 667.33,1239.9 668.83,1239.92 670.33,1238.95 671.83,1239.56 673.33,1239.9 674.83,1239.62 676.33,1239.12 677.83,1238.94 679.33,1238.96 680.83,1238.63 682.33,1238.82 683.1,1238.86 683.82,1365.75 685.26,1461.06 687.07,1462.45 689.07,1462.28 691.07,1462.3 693.07,1461.9 695.07,1461.54 697.07,1461.74 699.07,1461.24 701.07,1461.15 703.07,1461.02 705.07,1460.81 707.07,1460.53 709.07,1460.46 711.07,1460.65 713.07,1460.05 715.07,1459.94 717.07,1459.95 719.07,1459.71 721.07,1459.53 723.07,1459.37 725.07,1458.76 727.07,1458.75 729.07,1458.72 731.07,1458.59 733.07,1458.53 735.07,1458.23 737.07,1457.94 739.07,1457.8 741.07,1457.58 743.07,1457.47 745.07,1457.35 747.07,1457.02 749.07,1456.77 751.07,1456.58 753.07,1456.69 755.07,1456.54 757.07,1456.31 759.07,1456.11 761.07,1455.93 763.07,1455.62 765.07,1455.54 767.07,1455.1 769.07,1455.04 771.07,1454.78 773.07,1454.82 775.07,1454.44 777.07,1454.32 779.07,1454.22 781.07,1454.18 783.07,1453.67 785.07,1453.47 787.07,1453.55 789.07,1453.08 791.07,1453.13 793.07,1452.79 795.07,1452.68 797.07,1452.24 799.07,1452.43 801.07,1452.07 803.07,1451.82 805.07,1452.09 807.07,1451.7 809.07,1451.94 811.07,1451.29 813.07,1450.99 815.07,1450.88 817.07,1450.92 819.07,1450.49 821.07,1450.38 823.07,1450.2 825.07,1449.81 827.07,1449.78 827.98,1449.68 829.06,1227.77 829.78,1227.62 831.28,1227.37 832.78,1227.98 834.28,1227.9 835.78,1227.7 837.28,1227.38 838.78,1227.03 840.28,1227.76 841.78,1227.57 843.28,1227.07 844.78,1227.54 846.28,1227.08 847.78,1227.51 849.28,1227.54 850.78,1227.58 852.28,1227.51 853.78,1227.48 855.28,1227.06 856.78,1227.26 858.28,1227.19 859.78,1227.24 861.28,1227.36 862.78,1227.43 864.28,1227.7 865.78,1226.4 867.28,1227.25 868.78,1227.01 870.28,1227.69 871.78,1227.22 873.28,1226.37 874.78,1226.9 876.28,1226.54 877.78,1226.9 879.28,1226.19 880.78,1226.37 882.28,1226.25 883.78,1226.15 885.28,1225.89 886.78,1225.4 888.28,1225.97 889.78,1226.01 891.28,1225.57 892.78,1225.16 894.28,1225.4 895.78,1225.38 897.28,1225.03 898.78,1224.95 900.28,1225.26 901.78,1224.37 903.28,1224.42 904.78,1223.89 906.28,1224.14 907.78,1224.01 909.28,1223.83 910.78,1223.8 912.28,1224.45 913.78,1223.75 915.28,1223.68 916.78,1224.28 918.28,1223.52 919.78,1222.94 921.28,1223.5 922.78,1223.03 924.28,1223.73 925.78,1222.79 927.28,1222.92 928.78,1222.54 930.28,1222.98 931.78,1222.58 933.28,1222.8 934.78,1222.64 936.28,1222.51 937.78,1222.91 939.28,1222.85 940.78,1222.52 942.28,1222.17 943.78,1222.06 945.28,1222.4 946.78,1222.98 948.28,1222.07 949.78,1221.91 951.28,1221.88 952.78,1221.7 954.28,1221.68 955.78,1221.85 957.28,1222.28 958.78,1221.79 960.28,1221.58 961.78,1221.19 963.28,1221.68 964.78,1221.55 966.28,1221.13 967.78,1221.11 969.28,1221.36 970.78,1221.61 972.28,1221.44 972.86,1221.22" fill="none" stroke="#1a1a1a" stroke-width="1.9" stroke-linejoin="round"/>
<polyline points="107.5,1476.7 109.5,1482.92 111.5,1485.42 113.5,1486.61 115.5,1486.66 117.5,1486.66 119.5,1486.66 121.5,1486.66 123.5,1486.66 125.5,1486.66 127.5,1486.66 129.5,1486.66 131.5,1486.66 133.5,1486.66 135.5,1486.66 137.5,1486.66 139.5,1486.66 141.5,1486.66 143.5,1486.66 145.5,1486.66 147.5,1486.66 149.5,1486.66 151.5,1486.66 153.5,1486.66 155.5,1486.66 157.5,1486.66 159.5,1486.66 161.5,1486.66 163.5,1486.66 165.5,1486.66 167.5,1486.66 169.5,1486.66 171.5,1486.66 173.5,1486.66 175.5,1486.66 177.5,1486.66 179.5,1486.66 181.5,1486.66 183.5,1486.66 185.5,1486.66 187.5,1486.66 189.5,1486.66 191.5,1486.66 193.5,1486.66 195.5,1486.66 197.5,1486.66 199.5,1486.66 201.5,1486.66 203.5,1486.66 205.5,1486.66 207.5,1486.66 209.5,1486.66 211.5,1486.66 213.5,1486.66 215.5,1486.66 217.5,1486.66 219.5,1486.66 221.5,1486.66 223.5,1486.66 225.5,1486.66 227.5,1486.66 229.5,1486.66 231.5,1486.66 233.5,1486.66 235.5,1486.66 237.5,1486.66 239.5,1486.66 241.5,1486.66 243.5,1486.66 245.5,1486.66 247.5,1486.66 249.5,1486.66 251.5,1486.66 252.5,1486.66 254.2,1131.04 254.6,1130.6 256.1,1133.52 257.6,1135.86 259.1,1137.64 260.6,1138.85 262.1,1139.15 263.6,1139.52 265.1,1140.51 266.6,1140.08 268.1,1140.01 269.6,1140.06 271.1,1140.38 272.6,1140.8 274.1,1140.93 275.6,1141.07 277.1,1141.35 278.6,1141.36 280.1,1141.1 281.6,1141.36 283.1,1141.21 284.6,1140.89 286.1,1141.35 287.6,1141.17 289.1,1141.13 290.6,1141.83 292.1,1141.49 293.6,1141.15 295.1,1141.3 296.6,1142.06 298.1,1141.31 299.6,1141.63 301.1,1141.62 302.6,1141.61 304.1,1141.65 305.6,1141.34 307.1,1141.36 308.6,1141.47 310.1,1141.42 311.6,1141.79 313.1,1142.02 314.6,1141.29 316.1,1141.73 317.6,1141.28 319.1,1141.37 320.6,1141.51 322.1,1141.61 323.6,1141.45 325.1,1140.79 326.6,1142 328.1,1141.5 329.6,1141.39 331.1,1141.79 332.6,1141.4 334.1,1141.15 335.6,1141.73 337.1,1141.71 338.6,1141.33 340.1,1141.84 341.6,1141.69 343.1,1141.24 344.6,1142.11 346.1,1141.66 347.6,1141.24 349.1,1141.72 350.6,1141.62 352.1,1141.88 353.6,1141.17 355.1,1141.9 356.6,1141.87 358.1,1141.79 359.6,1141.77 361.1,1141.98 362.6,1141.8 364.1,1141.62 365.6,1141.33 367.1,1141.92 368.6,1141.88 370.1,1141.67 371.6,1141.63 373.1,1141.8 374.6,1140.81 376.1,1141.68 377.6,1140.82 379.1,1141.65 380.6,1141.9 382.1,1142.16 383.6,1141.44 385.1,1141.71 386.6,1141.56 388.1,1140.9 389.6,1141.8 391.1,1141.57 392.6,1141.6 394.1,1141.29 394.2,1141.56 395.2,1484.67 536.5,1484.67 539.2,1128.19 539.6,1129.62 541.1,1131.41 542.6,1133.71 544.1,1135.29 545.6,1137.87 547.1,1137.81 548.6,1138.44 550.1,1139 551.6,1139.21 553.1,1140.31 554.6,1140.38 556.1,1140.08 557.6,1140.72 559.1,1141.21 560.6,1140.54 562.1,1141.08 563.6,1141.02 565.1,1141.85 566.6,1141.31 568.1,1141.1 569.6,1141.1 571.1,1141.88 572.6,1141.2 574.1,1142.07 575.6,1140.93 577.1,1141.38 578.6,1141.39 580.1,1141.28 581.6,1141.45 583.1,1141.75 584.6,1141.35 586.1,1141.14 587.6,1142 589.1,1142.06 590.6,1141.42 592.1,1141.74 593.6,1140.88 595.1,1141.99 596.6,1141.29 598.1,1141.54 599.6,1142.38 601.1,1141.35 602.6,1141.76 604.1,1141.44 605.6,1141.22 607.1,1141.45 608.6,1141.9 610.1,1141.44 611.6,1141.68 613.1,1142.1 614.6,1141.85 616.1,1141.52 617.6,1142.4 619.1,1142 620.6,1142.41 622.1,1141.68 623.6,1142.53 625.1,1141.63 626.6,1141.53 628.1,1141.95 629.6,1141.98 631.1,1142.19 632.6,1141.96 634.1,1142.34 635.6,1142.57 637.1,1141.99 638.6,1141.78 640.1,1142.1 641.6,1142.49 643.1,1142.5 644.6,1142.17 646.1,1141.99 647.6,1142.3 649.1,1142.61 650.6,1142.12 652.1,1142.75 653.6,1142.44 655.1,1142.48 656.6,1142.21 658.1,1142.84 659.6,1142.45 661.1,1142 662.6,1142.72 664.1,1142.36 665.6,1142.83 667.1,1142.57 668.6,1142.35 670.1,1142.61 671.6,1142.42 673.1,1142.34 674.6,1142.61 676.1,1142.88 677.6,1142.66 679.1,1142.63 680.6,1142.51 682.1,1142.87 683.6,1142.79 684,1142.7 685.2,1483.25 829.6,1483.25 832.6,1135.31 833,1137.03 834.5,1137.95 836,1139.67 837.5,1139.63 839,1140.84 840.5,1141.37 842,1141.76 843.5,1141.28 845,1141.6 846.5,1142.17 848,1142.68 849.5,1142.84 851,1142.18 852.5,1142.8 854,1143.21 855.5,1142.93 857,1142.67 858.5,1142.81 860,1142.66 861.5,1143.47 863,1143.07 864.5,1143.05 866,1142.95 867.5,1143.21 869,1143 870.5,1143.01 872,1143.33 873.5,1143.3 875,1143.53 876.5,1143.47 878,1143.81 879.5,1143.46 881,1143.57 882.5,1143.58 884,1143.29 885.5,1143.91 887,1143.4 888.5,1143.11 890,1143.99 891.5,1143.82 893,1143.47 894.5,1143.94 896,1143.96 897.5,1143.9 899,1143.34 900.5,1143.76 902,1143.41 903.5,1143.55 905,1143.58 906.5,1143.5 908,1143.92 909.5,1143.54 911,1143.98 912.5,1143.86 914,1143.63 915.5,1143.88 917,1144.05 918.5,1144.19 920,1143.78 921.5,1144.4 923,1144.05 924.5,1144.27 926,1143.49 927.5,1143.59 929,1144.29 930.5,1143.86 932,1144.08 933.5,1144.31 935,1143.52 936.5,1144.1 938,1144.56 939.5,1144.22 941,1144.01 942.5,1144.16 944,1144 945.5,1144.24 947,1144.41 948.5,1143.95 950,1144.2 951.5,1144.13 953,1144.27 954.5,1144.3 956,1143.73 957.5,1144.42 959,1144.33 960.5,1143.75 962,1144 963.5,1143.65 965,1144.01 966.5,1144.2 968,1143.76 969.5,1143.89 971,1143.86 972.5,1143.92 972.86,1144.12" fill="none" stroke="#c0272d" stroke-width="2" stroke-linejoin="round"/>
<polyline points="107.3,1018.66 107.6,1465.33 108,1473.85 110,1484.58 112,1490.15 114,1493.33 116,1495.23 118,1496.01 120,1496.62 122,1497.15 124,1497.49 126,1497.73 128,1497.9 130,1498.03 132,1498.04 134,1498.19 136,1498.18 138,1498.02 140,1498.23 142,1498.18 144,1498.31 146,1498.37 148,1498.29 150,1498.07 152,1498.33 154,1498.12 156,1498.45 158,1498.24 160,1498.3 162,1498.52 164,1498.17 166,1498.36 168,1498.26 170,1498.32 172,1498.3 174,1498.46 176,1498.37 178,1498.44 180,1498.48 182,1498.25 184,1498.57 186,1498.41 188,1498.28 190,1498.38 192,1498.54 194,1498.56 196,1498.4 198,1498.48 200,1498.5 202,1498.58 204,1498.47 206,1498.59 208,1498.4 210,1498.42 212,1498.57 214,1498.58 216,1498.51 218,1498.58 220,1498.54 222,1498.6 224,1498.65 226,1498.59 228,1498.62 230,1498.5 232,1498.49 234,1498.31 236,1498.6 238,1498.57 240,1498.63 242,1498.39 244,1498.54 246,1498.54 248,1498.42 250,1498.7 252,1498.74 253,1498.61 255.5,1035.73 257,1037.7 258.5,1038.62 260,1039.42 261.5,1039.1 263,1040.01 264.5,1040.51 266,1040.92 267.5,1040.42 269,1040.78 270.5,1041.33 272,1041.75 273.5,1041.2 275,1041.34 276.5,1041.24 278,1041.81 279.5,1041.39 281,1041.68 282.5,1041.69 284,1041.83 285.5,1041.64 287,1041.62 288.5,1041.69 290,1040.05 291.5,1038.14 293,1038.24 294.5,1038.82 296,1038.94 297.5,1039.13 299,1039.52 300.5,1040.39 302,1039.57 303.5,1039.75 305,1039.78 306.5,1039.62 308,1040.03 309.5,1039.98 311,1039.89 312.5,1039.47 314,1040.16 315.5,1040.06 317,1039.86 318.5,1039.21 320,1039.91 321.5,1039.63 323,1039.89 324.5,1039.84 326,1039.77 327.5,1040.25 329,1040.03 330.5,1040.32 332,1039.77 333.5,1039.97 335,1040.37 336.5,1040.11 338,1039.84 339.5,1039.8 341,1039.88 342.5,1040 344,1040.2 345.5,1040.05 347,1040.19 348.5,1040.2 350,1040 351.5,1040.28 353,1040.12 354.5,1039.86 356,1039.85 357.5,1039.86 359,1039.65 360.5,1039.47 362,1039.79 363.5,1039.62 365,1039.87 366.5,1039.53 368,1039.68 369.5,1039.67 371,1039.46 372.5,1039.6 374,1039.33 375.5,1039.37 377,1039.65 378.5,1039.51 380,1039.37 381.5,1039.14 383,1039.48 384.5,1039.78 386,1038.67 387.5,1039.47 389,1039.22 390.5,1039.42 392,1039.4 393.5,1038.81 395,1039.49 396,1039 397,1496.05 539.5,1496.05 542.4,1022 543.5,1030 544,1032.88 545.5,1034.26 547,1035.72 548.5,1036.13 550,1036.57 551.5,1036.67 553,1036.8 554.5,1037.28 556,1037.16 557.5,1037.9 559,1037.68 560.5,1037.99 562,1037.3 563.5,1037.07 565,1036.99 566.5,1037.44 568,1037.16 569.5,1037.53 571,1037 572.5,1036.95 574,1037.3 575.5,1037.05 577,1037.24 578.5,1037.19 580,1036.98 581.5,1036.48 583,1036.47 584.5,1037.17 586,1036.43 587.5,1036.45 589,1036.31 590.5,1036.16 592,1036.02 593.5,1035.81 595,1035.72 596.5,1035.24 598,1036.08 599.5,1035.53 601,1035.13 602.5,1035.5 604,1035.44 605.5,1034.79 607,1034.93 608.5,1035.33 610,1034.98 611.5,1034.84 613,1034.87 614.5,1034.46 616,1034.31 617.5,1034.67 619,1034.1 620.5,1034.01 622,1034.07 623.5,1033.79 625,1033.35 626.5,1034.03 628,1033.41 629.5,1033.77 631,1033.32 632.5,1032.84 634,1033.36 635.5,1032.81 637,1032.52 638.5,1032.62 640,1031.98 641.5,1032.53 643,1032.13 644.5,1032.15 646,1031.89 647.5,1032.19 649,1032.01 650.5,1032.1 652,1032.15 653.5,1031.7 655,1031.55 656.5,1031.51 658,1031.13 659.5,1031.1 661,1031.34 662.5,1030.83 664,1030.46 665.5,1030.77 667,1030.83 668.5,1031.05 670,1030.39 671.5,1030.24 673,1030.41 674.5,1030.25 676,1030.26 677.5,1029.97 679,1030.06 680.5,1029.77 682,1030.07 683.5,1029.79 685,1029.77 685,1029.6 687,1495.2 830.8,1495.2 832.6,1018 833.2,1023.7 833.5,1023.61 835,1024.23 836.5,1025.46 838,1026.01 839.5,1026.61 841,1026.84 842.5,1026.79 844,1026.94 845.5,1026.77 847,1027.01 848.5,1027.07 850,1026.89 851.5,1026.7 853,1027.27 854.5,1026.67 856,1027.29 857.5,1027.12 859,1027.16 860.5,1026.5 862,1026.81 863.5,1026.23 865,1026.43 866.5,1026.07 868,1026.2 869.5,1026.19 871,1026.49 872.5,1026.45 874,1026.01 875.5,1025.96 877,1025.72 878.5,1025.6 880,1025.37 881.5,1025.7 883,1025.84 884.5,1025.42 886,1025.63 887.5,1025.16 889,1025.12 890.5,1025.15 892,1025.43 893.5,1024.98 895,1025.22 896.5,1024.84 898,1024.55 899.5,1024.23 901,1024.52 902.5,1024.3 904,1024.68 905.5,1024.46 907,1023.83 908.5,1024.36 910,1024.19 911.5,1023.22 913,1023.59 914.5,1023.82 916,1023.26 917.5,1023.38 919,1023.6 920.5,1023.44 922,1023.39 923.5,1023.35 925,1022.88 926.5,1023.62 928,1023.06 929.5,1023.39 931,1022.7 932.5,1022.83 934,1022.7 935.5,1022.5 937,1022.54 938.5,1022.45 940,1022.51 941.5,1022.31 943,1022.17 944.5,1022.21 946,1022.38 947.5,1021.96 949,1022.02 950.5,1021.84 952,1021.24 953.5,1021.43 955,1021.36 956.5,1021.17 958,1021.29 959.5,1020.94 961,1021.38 962.5,1021.1 964,1021.48 965.5,1021.2 967,1020.71 968.5,1020.9 970,1020.9 971.5,1020.64 973,1020.65 973.5,1020.7" fill="none" stroke="#2a9384" stroke-width="1.9" stroke-linejoin="round"/>
<polyline points="107.5,1482.52 109.5,1489.83 111.5,1493.23 113.5,1495.5 115.5,1496.79 117.5,1497.54 119.5,1498.02 121.5,1498.37 123.5,1498.84 125.5,1499.32 127.5,1499.22 129.5,1499.56 131.5,1499.53 133.5,1499.55 135.5,1499.6 137.5,1499.49 139.5,1499.56 141.5,1499.77 143.5,1499.57 145.5,1499.58 147.5,1499.5 149.5,1499.61 151.5,1499.74 153.5,1499.81 155.5,1499.76 157.5,1499.78 159.5,1499.78 161.5,1499.77 163.5,1499.85 165.5,1499.75 167.5,1499.88 169.5,1499.77 171.5,1499.63 173.5,1499.67 175.5,1499.79 177.5,1499.77 179.5,1499.7 181.5,1499.75 183.5,1499.86 185.5,1499.88 187.5,1499.93 189.5,1499.77 191.5,1499.9 193.5,1499.97 195.5,1499.91 197.5,1500.05 199.5,1499.84 201.5,1499.89 203.5,1499.91 205.5,1499.86 207.5,1499.9 209.5,1499.93 211.5,1499.91 213.5,1499.86 215.5,1499.87 217.5,1499.91 219.5,1499.77 221.5,1499.95 223.5,1499.83 225.5,1499.91 227.5,1499.84 229.5,1499.96 231.5,1499.92 233.5,1499.93 235.5,1499.89 237.5,1499.98 239.5,1500.13 241.5,1499.81 243.5,1500.04 245.5,1500.02 247.5,1499.97 249.5,1499.89 251.5,1500.17 253.5,1500.05 254.8,1500.03 255,968 255.3,968.25 256.8,980.82 258.3,989.81 259.8,997.93 261.3,1004.62 262.8,1009.43 264.3,1012.86 265.8,1015.95 267.3,1018.07 268.8,1020.16 270.3,1022.18 271.8,1024.05 273.3,1025.48 274.8,1026.68 276.3,1028.22 277.8,1029.02 279.3,1030.02 280.8,1031.7 282.3,1031.92 283.8,1033.03 285.3,1033.8 286.8,1034.4 288.3,1035.09 289.8,1035.81 291.3,1036.35 292.8,1036.6 294.3,1037.25 295.8,1038.07 297.3,1038.37 298.8,1038.54 300.3,1039.11 301.8,1039.29 303.3,1039.65 304.8,1040.27 306.3,1041.21 307.8,1041.07 309.3,1041.14 310.8,1041.98 312.3,1042.21 313.8,1042.91 315.3,1043.37 316.8,1043.31 318.3,1043.72 319.8,1043.75 321.3,1044.53 322.8,1044.31 324.3,1044.75 325.8,1045.57 327.3,1045 328.8,1045.51 330.3,1045.68 331.8,1046.03 333.3,1046.24 334.8,1046.7 336.3,1046.65 337.8,1046.87 339.3,1046.61 340.8,1047.19 342.3,1046.94 343.8,1047.72 345.3,1047.56 346.8,1047.96 348.3,1047.74 349.8,1048.04 351.3,1048.13 352.8,1048.36 354.3,1048.31 355.8,1048.3 357.3,1048.45 358.8,1048.49 360.3,1048.52 361.8,1048.54 363.3,1048.57 364.8,1049.47 366.3,1048.91 367.8,1048.9 369.3,1049.49 370.8,1049.4 372.3,1049.37 373.8,1049.76 375.3,1050.01 376.8,1049.42 378.3,1050.05 379.8,1049.91 381.3,1050.13 382.8,1049.79 384.3,1050.4 385.8,1050.35 387.3,1049.51 388.8,1050.53 390.3,1050.63 391.8,1050.04 393.3,1050.55 394,1050.5 395.4,1499.46 537.2,1499.46 541.1,1037 541.5,1036.96 543,1047.06 544.5,1051.33 546,1054.16 547.5,1055.34 549,1055.99 550.5,1056.59 552,1056.58 553.5,1057.42 555,1057.2 556.5,1057.7 558,1057.65 559.5,1058.6 561,1058.07 562.5,1058.54 564,1058.25 565.5,1058.34 567,1058.61 568.5,1058.51 570,1059.16 571.5,1058.62 573,1059.13 574.5,1058.51 576,1058.65 577.5,1059.09 579,1058.65 580.5,1059.52 582,1059.22 583.5,1059.17 585,1059.63 586.5,1059.11 588,1059.1 589.5,1058.69 591,1058.9 592.5,1059.34 594,1058.94 595.5,1059.68 597,1059.77 598.5,1059.68 600,1059.21 601.5,1059.43 603,1059.34 604.5,1059.88 606,1060 607.5,1059.72 609,1059.83 610.5,1059.9 612,1060.05 613.5,1059.68 615,1059.7 616.5,1060.16 618,1060.12 619.5,1060.14 621,1060.06 622.5,1060.26 624,1060.22 625.5,1059.98 627,1060.57 628.5,1060.45 630,1060.14 631.5,1060.2 633,1060.08 634.5,1059.93 636,1060.04 637.5,1059.97 639,1060.18 640.5,1060.44 642,1060.37 643.5,1060.06 645,1060.38 646.5,1060.3 648,1060.2 649.5,1060.77 651,1060.26 652.5,1060.76 654,1060.14 655.5,1060.65 657,1060.43 658.5,1060.86 660,1060.74 661.5,1060.47 663,1060.84 664.5,1061.02 666,1061.05 667.5,1061.11 669,1060.68 670.5,1061.32 672,1060.67 673.5,1060.8 675,1060.48 676.5,1060.83 678,1060.55 679.5,1060.96 681,1060.52 682.5,1061.44 684,1061.2 684,1061 686.2,1499.46 826.8,1499.46 829,1044.6 829.5,1046.4 831,1056.29 832.5,1059.72 834,1061.62 835.5,1062.34 837,1062.38 838.5,1062.94 840,1063.41 841.5,1063.97 843,1063.6 844.5,1064.17 846,1064.13 847.5,1064.58 849,1064.66 850.5,1064.26 852,1064.27 853.5,1064.94 855,1064.87 856.5,1064.63 858,1064.87 859.5,1064.71 861,1064.83 862.5,1064.64 864,1064.9 865.5,1065.2 867,1065.16 868.5,1065.14 870,1064.87 871.5,1065.1 873,1064.77 874.5,1064.82 876,1064.94 877.5,1064.65 879,1064.98 880.5,1064.51 882,1065.36 883.5,1065.17 885,1065.04 886.5,1064.8 888,1064.83 889.5,1064.89 891,1064.58 892.5,1064.89 894,1064.77 895.5,1065.21 897,1065.34 898.5,1065.37 900,1064.67 901.5,1064.66 903,1065.36 904.5,1065.2 906,1065.27 907.5,1065.17 909,1065.06 910.5,1065.53 912,1065.22 913.5,1065.18 915,1064.76 916.5,1065.04 918,1065.34 919.5,1065.15 921,1065.23 922.5,1064.96 924,1065.18 925.5,1064.86 927,1064.96 928.5,1065.27 930,1065.43 931.5,1064.93 933,1064.95 934.5,1064.95 936,1064.96 937.5,1065.01 939,1065.22 940.5,1065.09 942,1065 943.5,1065.12 945,1064.56 946.5,1064.97 948,1065.5 949.5,1064.75 951,1064.86 952.5,1065.07 954,1065.26 955.5,1064.94 957,1064.74 958.5,1065.39 960,1064.42 961.5,1064.78 963,1064.82 964.5,1064.42 966,1065.34 967.5,1065.49 969,1064.63 970.5,1064.9 972,1064.94 973.5,1065.18 973.5,1065" fill="none" stroke="#b044b8" stroke-width="3" stroke-linejoin="round"/>
<polyline points="107.5,1479.56 109.5,1491.95 111.5,1496.98 113.5,1499.91 115.5,1501.94 117.5,1503.4 119.5,1504.86 121.5,1505.8 123.5,1507.12 125.5,1507.23 127.5,1507.96 129.5,1508.2 131.5,1508.23 133.5,1508.3 135.5,1508.48 137.5,1508.65 139.5,1508.79 141.5,1508.57 143.5,1508.8 145.5,1508.75 147.5,1508.95 149.5,1508.8 151.5,1508.85 153.5,1508.87 155.5,1508.59 157.5,1508.47 159.5,1508.15 161.5,1507.96 163.5,1507.52 165.5,1507.35 167.5,1507.1 169.5,1506.8 171.5,1506.82 173.5,1506.1 175.5,1505.87 177.5,1505.93 179.5,1505.81 181.5,1505.64 183.5,1505.63 185.5,1505.61 187.5,1505.24 189.5,1505.04 191.5,1505.07 193.5,1505.11 195.5,1504.94 197.5,1504.78 199.5,1504.75 201.5,1504.67 203.5,1504.38 205.5,1504.52 207.5,1504.31 209.5,1504.3 211.5,1504.2 213.5,1504.19 215.5,1504.21 217.5,1504.02 219.5,1503.99 221.5,1504.01 223.5,1503.89 225.5,1503.71 227.5,1503.8 229.5,1503.61 231.5,1503.56 233.5,1503.54 235.5,1503.61 237.5,1503.3 239.5,1503.28 241.5,1503.27 243.5,1503.09 245.5,1503.12 247.5,1503.17 249.5,1502.77 251.5,1502.89 251.8,1502.88 254.8,876 255.2,875.42 256.5,891.43 257.8,899.51 259.1,904.18 260.4,907.2 261.7,909.33 263,912.42 264.3,914.66 265.6,916.33 266.9,919.39 268.2,920.29 269.5,920.59 270.8,922.35 272.1,924.1 273.4,924.16 274.7,925.91 276,926.5 277.3,927.9 278.6,928.65 279.9,928.84 281.2,930.92 282.5,930.24 283.8,931.78 285.1,931.12 286.4,931.73 287.7,932.49 289,933.13 290.3,934.46 291.6,933.19 292.9,935.86 294.2,934.13 295.5,936.41 296.8,935.77 298.1,935.55 299.4,936.78 300.7,936.07 302,936.64 303.3,936.91 304.6,939.16 305.9,936.55 307.2,938.84 308.5,937.43 309.8,937.3 311.1,937.64 312.4,939.08 313.7,938.2 315,937.96 316.3,939.16 317.6,939.11 318.9,939.88 320.2,938.5 321.5,940.63 322.8,940.67 324.1,939.53 325.4,940.08 326.7,940.95 328,940.75 329.3,941.84 330.6,942.05 331.9,941.99 333.2,941.57 334.5,941.34 335.8,943.43 337.1,942.74 338.4,944.9 339.7,945.81 341,945.06 342.3,946.04 343.6,946.76 344.9,946.89 346.2,945.92 347.5,946.43 348.8,947.21 350.1,948.04 351.4,947.75 352.7,948.91 354,950.09 355.3,949.24 356.6,949.92 357.9,949.58 359.2,950.58 360.5,951.72 361.8,952.41 363.1,951.99 364.4,951.64 365.7,954.03 367,951.51 368.3,953.09 369.6,953.26 370.9,954.24 372.2,955.08 373.5,954.77 374.8,958.12 376.1,957.47 377.4,957.04 378.7,956.51 380,956.21 381.3,958.64 382.6,958.86 383.9,959.03 385.2,960.2 386.5,959.96 387.8,959.04 389.1,959.16 390.4,960.72 391.7,961.55 393,962.36 394.3,962.57 395.6,962.68 396,963 398.2,1503.45 541.2,1503.45 544.4,935 544.8,934.36 546.1,945.71 547.4,949.21 548.7,950.19 550,951.3 551.3,952.94 552.6,953.63 553.9,955.53 555.2,955.42 556.5,957.36 557.8,957.27 559.1,958.94 560.4,961.01 561.7,959.05 563,960.56 564.3,962.83 565.6,962.36 566.9,962.46 568.2,963.36 569.5,963.46 570.8,963.37 572.1,963.24 573.4,965.35 574.7,966.17 576,968.15 577.3,968.26 578.6,967.63 579.9,969.82 581.2,969.27 582.5,971.75 583.8,970.82 585.1,972.89 586.4,973.05 587.7,973.28 589,975.12 590.3,974.84 591.6,973.87 592.9,976.64 594.2,976.3 595.5,977.36 596.8,978.5 598.1,979.53 599.4,979.75 600.7,979.52 602,980.43 603.3,980.77 604.6,982.09 605.9,982.45 607.2,984.18 608.5,983.77 609.8,985.63 611.1,986.9 612.4,986.56 613.7,986.67 615,988.27 616.3,987.33 617.6,988.46 618.9,990 620.2,989.93 621.5,989.84 622.8,990.2 624.1,990.47 625.4,992.34 626.7,993.12 628,993.15 629.3,992.49 630.6,993.08 631.9,992.58 633.2,992.75 634.5,994.4 635.8,994.75 637.1,993.67 638.4,994.04 639.7,995.53 641,994.63 642.3,996.75 643.6,997.17 644.9,995.79 646.2,996.71 647.5,997.96 648.8,998.36 650.1,997.94 651.4,998.21 652.7,998.43 654,999.38 655.3,999.74 656.6,999.46 657.9,999.58 659.2,1000.2 660.5,1000.44 661.8,1000.6 663.1,1000.29 664.4,1001.61 665.7,1002.46 667,1002.26 668.3,1003.4 669.6,1003.1 670.9,1003.69 672.2,1004.09 673.5,1002.31 674.8,1004.62 676.1,1005.21 677.4,1003.88 678.7,1003.68 680,1004.63 681.3,1005.43 682.6,1006.22 683.9,1005.15 685.2,1006.46 686.5,1006.05 686.5,1007 690,1503.45 829.3,1503.45 831.6,977.8 832,978.08 833.3,984.24 834.6,987.02 835.9,987.91 837.2,989.16 838.5,991.24 839.8,990.78 841.1,992.55 842.4,993.04 843.7,994.09 845,994.54 846.3,996.73 847.6,997.27 848.9,997.04 850.2,999.35 851.5,998.68 852.8,1000.25 854.1,998.97 855.4,999.98 856.7,1000.53 858,1003.15 859.3,1002.97 860.6,1002.68 861.9,1003.81 863.2,1004.19 864.5,1004.85 865.8,1004.93 867.1,1006.92 868.4,1007.17 869.7,1006.97 871,1008.45 872.3,1009.46 873.6,1009.61 874.9,1009.81 876.2,1011.1 877.5,1011.76 878.8,1013.22 880.1,1011.97 881.4,1013.16 882.7,1013.43 884,1013.59 885.3,1014.48 886.6,1013.9 887.9,1014.79 889.2,1014.8 890.5,1016.41 891.8,1016.35 893.1,1016.35 894.4,1017.1 895.7,1018.2 897,1017.88 898.3,1016.66 899.6,1020.52 900.9,1018.99 902.2,1020.23 903.5,1019.14 904.8,1019.94 906.1,1020.62 907.4,1021.06 908.7,1020.81 910,1022.79 911.3,1021.26 912.6,1021.82 913.9,1023.93 915.2,1022.78 916.5,1021.75 917.8,1023.75 919.1,1023.96 920.4,1024.84 921.7,1025.57 923,1024.51 924.3,1025.53 925.6,1025.07 926.9,1024.64 928.2,1024.96 929.5,1025.18 930.8,1025.02 932.1,1027.56 933.4,1026.16 934.7,1025.99 936,1027.14 937.3,1026.55 938.6,1028.52 939.9,1029.37 941.2,1028.56 942.5,1028.38 943.8,1028.43 945.1,1029.29 946.4,1029.8 947.7,1030.07 949,1029.26 950.3,1029.95 951.6,1028.92 952.9,1030.3 954.2,1031.03 955.5,1031.3 956.8,1030 958.1,1029.77 959.4,1032.49 960.7,1031.2 962,1031.17 963.3,1031.74 964.6,1031.48 965.9,1032.22 967.2,1032.41 968.5,1031.63 969.8,1031.28 971.1,1032.07 972.4,1030.26 973.5,1032.8" fill="none" stroke="#2e3192" stroke-width="2.5" stroke-linejoin="round"/>
<line x1="106.4" y1="796.2" x2="106.4" y2="1537" stroke="#000" stroke-width="2.6"/>
<line x1="106.5" y1="797.3" x2="974.3" y2="797.3" stroke="#000" stroke-width="2"/>
<line x1="973.2" y1="796.3" x2="973.2" y2="1536.8" stroke="#000" stroke-width="2.2"/>
<line x1="98.7" y1="1535.8" x2="974.3" y2="1535.8" stroke="#000" stroke-width="2.4"/>
<line x1="107.2" y1="1018.66" x2="107.2" y2="1479.55" stroke="#2a9384" stroke-width="1.8"/>
<line x1="92.5" y1="1508" x2="106.4" y2="1508" stroke="#000" stroke-width="2"/>
<text transform="translate(83.5,1516.1) scale(0.82,1)" font-size="30.4" font-weight="normal" text-anchor="end" fill="#000">0.0</text>
<line x1="98.8" y1="1479.55" x2="106.4" y2="1479.55" stroke="#000" stroke-width="2"/>
<line x1="92.5" y1="1451.1" x2="106.4" y2="1451.1" stroke="#000" stroke-width="2"/>
<text transform="translate(83.5,1459.2) scale(0.82,1)" font-size="30.4" font-weight="normal" text-anchor="end" fill="#000">0.2</text>
<line x1="98.8" y1="1422.65" x2="106.4" y2="1422.65" stroke="#000" stroke-width="2"/>
<line x1="92.5" y1="1394.2" x2="106.4" y2="1394.2" stroke="#000" stroke-width="2"/>
<text transform="translate(83.5,1402.3) scale(0.82,1)" font-size="30.4" font-weight="normal" text-anchor="end" fill="#000">0.4</text>
<line x1="98.8" y1="1365.75" x2="106.4" y2="1365.75" stroke="#000" stroke-width="2"/>
<line x1="92.5" y1="1337.3" x2="106.4" y2="1337.3" stroke="#000" stroke-width="2"/>
<text transform="translate(83.5,1345.4) scale(0.82,1)" font-size="30.4" font-weight="normal" text-anchor="end" fill="#000">0.6</text>
<line x1="98.8" y1="1308.85" x2="106.4" y2="1308.85" stroke="#000" stroke-width="2"/>
<line x1="92.5" y1="1280.4" x2="106.4" y2="1280.4" stroke="#000" stroke-width="2"/>
<text transform="translate(83.5,1288.5) scale(0.82,1)" font-size="30.4" font-weight="normal" text-anchor="end" fill="#000">0.8</text>
<line x1="98.8" y1="1251.95" x2="106.4" y2="1251.95" stroke="#000" stroke-width="2"/>
<line x1="92.5" y1="1223.5" x2="106.4" y2="1223.5" stroke="#000" stroke-width="2"/>
<text transform="translate(83.5,1231.6) scale(0.82,1)" font-size="30.4" font-weight="normal" text-anchor="end" fill="#000">1.0</text>
<line x1="98.8" y1="1195.05" x2="106.4" y2="1195.05" stroke="#000" stroke-width="2"/>
<line x1="92.5" y1="1166.6" x2="106.4" y2="1166.6" stroke="#000" stroke-width="2"/>
<text transform="translate(83.5,1174.7) scale(0.82,1)" font-size="30.4" font-weight="normal" text-anchor="end" fill="#000">1.2</text>
<line x1="98.8" y1="1138.15" x2="106.4" y2="1138.15" stroke="#000" stroke-width="2"/>
<line x1="92.5" y1="1109.7" x2="106.4" y2="1109.7" stroke="#000" stroke-width="2"/>
<text transform="translate(83.5,1117.8) scale(0.82,1)" font-size="30.4" font-weight="normal" text-anchor="end" fill="#000">1.4</text>
<line x1="98.8" y1="1081.25" x2="106.4" y2="1081.25" stroke="#000" stroke-width="2"/>
<line x1="92.5" y1="1052.8" x2="106.4" y2="1052.8" stroke="#000" stroke-width="2"/>
<text transform="translate(83.5,1060.9) scale(0.82,1)" font-size="30.4" font-weight="normal" text-anchor="end" fill="#000">1.6</text>
<line x1="98.8" y1="1024.35" x2="106.4" y2="1024.35" stroke="#000" stroke-width="2"/>
<line x1="92.5" y1="995.9" x2="106.4" y2="995.9" stroke="#000" stroke-width="2"/>
<text transform="translate(83.5,1004) scale(0.82,1)" font-size="30.4" font-weight="normal" text-anchor="end" fill="#000">1.8</text>
<line x1="98.8" y1="967.45" x2="106.4" y2="967.45" stroke="#000" stroke-width="2"/>
<line x1="92.5" y1="939" x2="106.4" y2="939" stroke="#000" stroke-width="2"/>
<text transform="translate(83.5,947.1) scale(0.82,1)" font-size="30.4" font-weight="normal" text-anchor="end" fill="#000">2.0</text>
<line x1="98.8" y1="910.55" x2="106.4" y2="910.55" stroke="#000" stroke-width="2"/>
<line x1="92.5" y1="882.1" x2="106.4" y2="882.1" stroke="#000" stroke-width="2"/>
<text transform="translate(83.5,890.2) scale(0.82,1)" font-size="30.4" font-weight="normal" text-anchor="end" fill="#000">2.2</text>
<line x1="98.8" y1="853.65" x2="106.4" y2="853.65" stroke="#000" stroke-width="2"/>
<line x1="92.5" y1="825.2" x2="106.4" y2="825.2" stroke="#000" stroke-width="2"/>
<text transform="translate(83.5,833.3) scale(0.82,1)" font-size="30.4" font-weight="normal" text-anchor="end" fill="#000">2.4</text>
<line x1="98.8" y1="796.75" x2="106.4" y2="796.75" stroke="#000" stroke-width="2"/>
<line x1="106.1" y1="1535.8" x2="106.1" y2="1551.3" stroke="#000" stroke-width="2.2"/>
<text transform="translate(106.1,1584.4) scale(0.85,1)" font-size="29.5" font-weight="normal" text-anchor="middle" fill="#000">0</text>
<line x1="178.36" y1="1535.8" x2="178.36" y2="1544.3" stroke="#000" stroke-width="2.2"/>
<line x1="250.62" y1="1535.8" x2="250.62" y2="1551.3" stroke="#000" stroke-width="2.2"/>
<text transform="translate(250.62,1584.4) scale(0.85,1)" font-size="29.5" font-weight="normal" text-anchor="middle" fill="#000">40</text>
<line x1="322.88" y1="1535.8" x2="322.88" y2="1544.3" stroke="#000" stroke-width="2.2"/>
<line x1="395.14" y1="1535.8" x2="395.14" y2="1551.3" stroke="#000" stroke-width="2.2"/>
<text transform="translate(395.14,1584.4) scale(0.85,1)" font-size="29.5" font-weight="normal" text-anchor="middle" fill="#000">80</text>
<line x1="467.4" y1="1535.8" x2="467.4" y2="1544.3" stroke="#000" stroke-width="2.2"/>
<line x1="539.66" y1="1535.8" x2="539.66" y2="1551.3" stroke="#000" stroke-width="2.2"/>
<text transform="translate(539.66,1584.4) scale(0.85,1)" font-size="29.5" font-weight="normal" text-anchor="middle" fill="#000">120</text>
<line x1="611.92" y1="1535.8" x2="611.92" y2="1544.3" stroke="#000" stroke-width="2.2"/>
<line x1="684.18" y1="1535.8" x2="684.18" y2="1551.3" stroke="#000" stroke-width="2.2"/>
<text transform="translate(684.18,1584.4) scale(0.85,1)" font-size="29.5" font-weight="normal" text-anchor="middle" fill="#000">160</text>
<line x1="756.44" y1="1535.8" x2="756.44" y2="1544.3" stroke="#000" stroke-width="2.2"/>
<line x1="828.7" y1="1535.8" x2="828.7" y2="1551.3" stroke="#000" stroke-width="2.2"/>
<text transform="translate(828.7,1584.4) scale(0.85,1)" font-size="29.5" font-weight="normal" text-anchor="middle" fill="#000">200</text>
<line x1="900.96" y1="1535.8" x2="900.96" y2="1544.3" stroke="#000" stroke-width="2.2"/>
<line x1="973.22" y1="1535.8" x2="973.22" y2="1551.3" stroke="#000" stroke-width="2.2"/>
<text transform="translate(973.22,1584.4) scale(0.85,1)" font-size="29.5" font-weight="normal" text-anchor="middle" fill="#000">240</text>
<text transform="translate(530,1612.6) scale(0.88,1)" font-size="31.3" font-weight="bold" text-anchor="middle" fill="#000">Time (s)</text>
<text transform="translate(28.8,1137) rotate(-90) scale(1.155,1)" font-size="25.5" font-weight="bold" text-anchor="middle">Current density (mA.cm<tspan font-size="14.5" dy="-14">-2</tspan><tspan dy="14">)</tspan></text>
<rect x="107.5" y="793.6" width="142.2" height="153.6" fill="#fff" stroke="#000" stroke-width="1.6"/>
<line x1="112" y1="811.2" x2="158.8" y2="811.2" stroke="#1a1a1a" stroke-width="2.4"/>
<text transform="translate(165.8,819.7) scale(0.82,1)" font-size="25.2" font-weight="bold" text-anchor="start" fill="#000">Prestine</text>
<line x1="112" y1="842" x2="158.8" y2="842" stroke="#c0272d" stroke-width="2.4"/>
<text transform="translate(165.8,850.5) scale(0.82,1)" font-size="25.2" font-weight="bold" text-anchor="start" fill="#000">3 Mo</text>
<line x1="112" y1="872.8" x2="158.8" y2="872.8" stroke="#2e3192" stroke-width="2.4"/>
<text transform="translate(165.8,881.3) scale(0.82,1)" font-size="25.2" font-weight="bold" text-anchor="start" fill="#000">5 Mo</text>
<line x1="112" y1="903.6" x2="158.8" y2="903.6" stroke="#2a9384" stroke-width="2.4"/>
<text transform="translate(165.8,912.1) scale(0.82,1)" font-size="25.2" font-weight="bold" text-anchor="start" fill="#000">7 Mo</text>
<line x1="112" y1="934.4" x2="158.8" y2="934.4" stroke="#b044b8" stroke-width="3.2"/>
<text transform="translate(165.8,942.9) scale(0.82,1)" font-size="25.2" font-weight="bold" text-anchor="start" fill="#000">9 Mo</text>
<text transform="translate(127,1003.3) scale(1,1)" font-size="56" fill="#111">b<tspan font-size="52" dy="-3.3">)</tspan></text>
<rect x="870" y="1643" width="96" height="86" fill="#fefef8"/>
<polyline points="121.6,2150 121.8,2327.5 122,2330.12 123.5,2339.39 125,2347.68 126.5,2355.79 128,2361.58 129.5,2365.69 131,2368.5 132.5,2370.52 134,2372.43 135.5,2374.06 137,2375.36 138.5,2376.02 140,2376.7 141.5,2377.39 143,2378.07 144.5,2378.51 146,2379.13 147.5,2379.63 149,2380.23 150.5,2380.33 152,2380.76 153.5,2380.69 155,2381.13 156.5,2381.16 158,2381.18 159.5,2381.37 161,2381.61 162.5,2381.53 164,2381.82 165.5,2381.97 167,2382.06 168.5,2382.12 170,2381.74 171.5,2382.02 173,2381.89 174.5,2382.14 176,2382.01 177.5,2382.02 179,2382.02 180.5,2381.82 182,2381.86 183.5,2381.67 185,2381.99 186.5,2381.53 188,2381.49 189.5,2381.12 191,2381.04 192.5,2381 194,2381.1 195.5,2380.96 197,2380.74 198.5,2380.45 200,2380.66 201.5,2380.08 203,2379.95 204.5,2379.98 206,2379.6 207.5,2379.63 209,2379.57 210.5,2379.26 212,2379.17 213.5,2378.97 215,2378.72 216.5,2378.21 218,2378.36 219.5,2378.41 221,2378.04 222.5,2378.09 224,2378.1 225.5,2378.17 227,2377.68 228.5,2377.72 230,2377.74 231.5,2377.7 233,2377.34 234.5,2377.74 236,2377.27 237.5,2377.47 239,2377.2 240.5,2377.22 242,2377.33 243.5,2377.12 245,2376.96 246.5,2376.72 248,2376.7 249.5,2376.52 251,2376.95 252.5,2376.36 254,2376.13 255.5,2376.69 257,2376.56 258.5,2376.25 260,2376.35 261.5,2376.03 263,2376 264.5,2376 265.92,2300 267.34,2114 268,2114.19 269.5,2118.01 271,2120.88 272.5,2124.33 274,2126.27 275.5,2127.96 277,2129.25 278.5,2131.28 280,2132.48 281.5,2133.67 283,2134.87 284.5,2135.22 286,2136.28 287.5,2137.18 289,2137.69 290.5,2138.98 292,2138.15 293.5,2139.25 295,2139.34 296.5,2140.15 298,2141.43 299.5,2140.34 301,2141.11 302.5,2141.74 304,2141.84 305.5,2142.41 307,2141.82 308.5,2142.96 310,2142.54 311.5,2142.68 313,2143.53 314.5,2143.72 316,2143.5 317.5,2143.66 319,2144.05 320.5,2144.28 322,2144.38 323.5,2144.23 325,2143.9 326.5,2145.27 328,2144.97 329.5,2144.55 331,2144.51 332.5,2144.88 334,2145.04 335.5,2144.5 337,2145.79 338.5,2145.51 340,2145.3 341.5,2145.59 343,2145.59 344.5,2145.93 346,2145.66 347.5,2146.08 349,2146.21 350.5,2145.6 352,2145.58 353.5,2145.45 355,2145.7 356.5,2145.54 358,2145.8 359.5,2145.91 361,2145.99 362.5,2145.4 364,2146.18 365.5,2145.69 367,2145.76 368.5,2145.61 370,2145.09 371.5,2145.86 373,2145.15 374.5,2146.15 376,2145.77 377.5,2146.29 379,2145.96 380.5,2145.97 382,2146.2 383.5,2145.69 385,2146.23 386.5,2145.64 388,2145.76 389.5,2145.43 391,2145.84 392.5,2145.88 394,2145.46 395.5,2145.18 397,2145.6 398.5,2145.76 399.5,2145.6 400,2250 400.8,2355 402,2363 403,2363.48 405,2363.14 407,2362.97 409,2362.82 411,2362.26 413,2362.34 415,2362.43 417,2361.81 419,2361.76 421,2361.82 423,2361.46 425,2361.28 427,2360.91 429,2360.52 431,2360.93 433,2360.33 435,2360.11 437,2360.11 439,2359.77 441,2359.45 443,2359.06 445,2359 447,2358.79 449,2358.5 451,2358.27 453,2358.04 455,2357.97 457,2357.69 459,2357.63 461,2357.51 463,2357.2 465,2356.95 467,2356.97 469,2356.62 471,2356.1 473,2356.01 475,2355.94 477,2355.58 479,2355.62 481,2355.04 483,2354.82 485,2355.05 487,2354.8 489,2354.28 491,2354.34 493,2354.34 495,2353.79 497,2353.59 499,2353.41 501,2353.27 503,2352.98 505,2352.99 507,2352.68 509,2352.74 511,2352.9 513,2352.24 515,2352.37 517,2352.25 519,2351.57 521,2351.77 523,2351.6 525,2351.4 527,2351.41 529,2351.07 531,2351.04 533,2350.77 535,2350.66 537,2350.41 539,2350.72 541,2350.22 543,2349.9 545,2350.21 547,2350 549,2349.59 551,2349.36 553,2349.2 555,2349.34 557,2348.95 559,2348.73 559.5,2348.8 560,2250 561,2131 561.5,2130.79 563,2131.31 564.5,2132.3 566,2133.68 567.5,2133.8 569,2134.4 570.5,2134.52 572,2135.15 573.5,2134.86 575,2135.34 576.5,2135.36 578,2134.85 579.5,2134.53 581,2135.14 582.5,2134.89 584,2135.11 585.5,2134.66 587,2135.02 588.5,2135.13 590,2135.57 591.5,2135.32 593,2134.78 594.5,2135.09 596,2134.32 597.5,2134.89 599,2134.47 600.5,2134.82 602,2134.41 603.5,2134.15 605,2133.91 606.5,2134.53 608,2134.05 609.5,2134.21 611,2134.06 612.5,2133.11 614,2133.97 615.5,2133.56 617,2133.76 618.5,2133.73 620,2132.87 621.5,2133.33 623,2133.35 624.5,2133.45 626,2133.57 627.5,2132.94 629,2133.03 630.5,2133.25 632,2132.32 633.5,2133.54 635,2132.49 636.5,2133.2 638,2132.71 639.5,2133.24 641,2132.87 642.5,2132.41 644,2131.75 645.5,2132.31 647,2132.29 648.5,2132.29 650,2131.57 651.5,2131.64 653,2131.57 654.5,2131.86 656,2131.37 657.5,2131.54 659,2131.82 660.5,2131.27 662,2131.8 663.5,2131.34 665,2131.07 666.5,2131.45 668,2131.15 669.5,2130.79 671,2130.6 672.5,2130.71 674,2130.76 675.5,2130.95 677,2130.56 678.5,2130.17 680,2129.84 681.5,2130.31 683,2130.27 684.5,2130.45 685.5,2130 686,2300 687,2338 688,2339.42 690,2339.08 692,2339.17 694,2338.83 696,2338.5 698,2338.75 700,2338.46 702,2338.17 704,2338.03 706,2337.72 708,2337.82 710,2337.45 712,2337.3 714,2337.17 716,2336.9 718,2337.08 720,2337.03 722,2336.76 724,2336.2 726,2336.32 728,2336.13 730,2336.15 732,2335.64 734,2335.5 736,2335.62 738,2335.7 740,2335.39 742,2335.61 744,2335.02 746,2335.02 748,2334.85 750,2334.61 752,2334.76 754,2334.25 756,2334.14 758,2334.1 760,2333.93 762,2334.02 764,2333.61 766,2333.61 768,2333.31 770,2333.42 772,2333.07 774,2332.95 776,2332.52 778,2332.71 780,2332.35 782,2332.42 784,2332.2 786,2332.05 788,2331.98 790,2331.71 792,2331.36 794,2331.36 796,2331.2 798,2330.84 800,2330.95 802,2330.91 804,2330.57 806,2330.39 808,2330.28 810,2330.22 812,2329.81 814,2329.88 816,2329.46 818,2329.49 820,2329.33 822,2328.9 824,2329.03 826,2328.81 828,2328.37 829.5,2328.5 830,2200 830.6,2120 831,2119.84 832.5,2119.74 834,2119.61 835.5,2120.03 837,2119.58 838.5,2119.83 840,2119.4 841.5,2119.65 843,2120.34 844.5,2119.81 846,2119.08 847.5,2119.25 849,2119.48 850.5,2118.92 852,2119.77 853.5,2119.36 855,2119.29 856.5,2119.28 858,2118.96 859.5,2118.73 861,2117.98 862.5,2118.43 864,2119 865.5,2119.09 867,2118.71 868.5,2118.06 870,2118.5 871.5,2118.55 873,2118.01 874.5,2118.85 876,2117.91 877.5,2118.21 879,2117.75 880.5,2118.36 882,2117.53 883.5,2117.57 885,2118.18 886.5,2117.28 888,2117.44 889.5,2117.74 891,2117.59 892.5,2116.78 894,2117.52 895.5,2117.13 897,2117.57 898.5,2116.47 900,2117.27 901.5,2117.07 903,2116.72 904.5,2116.63 906,2116.84 907.5,2116.39 909,2116.44 910.5,2116.22 912,2116.46 913.5,2116.57 915,2115.71 916.5,2116.2 918,2116.23 919.5,2116.57 921,2115.72 922.5,2116.34 924,2115.68 925.5,2115.93 927,2115.76 928.5,2115.71 930,2115.42 931.5,2115.13 933,2115.91 934.5,2115.83 936,2115.21 937.5,2115.12 939,2115.04 940.5,2114.57 942,2114.58 943.5,2115.04 945,2115.15 946.5,2114.67 948,2114.35 949.5,2114.23 951,2114.32 952.5,2114.7 954,2114.41 955.5,2113.82 957,2113.84 958.5,2114.29 960,2114.2 961.5,2114.64 963,2114.46 964.5,2113.95 966,2113.58 967.5,2113.81 969,2113.27 970.5,2113.36 972,2113.87 972.5,2113.5" fill="none" stroke="#1a1a1a" stroke-width="2" stroke-linejoin="round"/>
<polyline points="121.6,2370.05 123.6,2372.08 125.6,2373.48 127.6,2373.52 129.6,2373.74 131.6,2373.94 133.6,2373.93 135.6,2373.92 137.6,2374.05 139.6,2373.95 141.6,2374.08 143.6,2373.96 145.6,2373.79 147.6,2373.83 149.6,2373.87 151.6,2373.74 153.6,2373.93 155.6,2373.9 157.6,2374.01 159.6,2373.81 161.6,2373.86 163.6,2373.93 165.6,2373.93 167.6,2373.72 169.6,2373.97 171.6,2373.73 173.6,2373.9 175.6,2373.72 177.6,2373.69 179.6,2373.58 181.6,2373.68 183.6,2373.92 185.6,2373.58 187.6,2373.79 189.6,2373.75 191.6,2373.55 193.6,2373.68 195.6,2373.69 197.6,2373.49 199.6,2373.45 201.6,2373.6 203.6,2373.5 205.6,2373.66 207.6,2373.46 209.6,2373.27 211.6,2373.36 213.6,2373.21 215.6,2373.39 217.6,2373.36 219.6,2373.21 221.6,2373.13 223.6,2373.29 225.6,2373.12 227.6,2373.26 229.6,2373 231.6,2373.04 233.6,2372.98 235.6,2372.89 237.6,2373.25 239.6,2373.11 241.6,2372.84 243.6,2372.95 245.6,2372.65 247.6,2372.93 249.6,2372.88 251.6,2372.7 253.6,2372.66 255.6,2372.69 257.6,2372.68 259.6,2372.57 261.6,2372.48 263.6,2372.51 265.6,2372.47 266.27,2372.5 267.6,2088 268,2090.25 269.5,2096.19 271,2101.47 272.5,2104.37 274,2106.98 275.5,2108.52 277,2109.46 278.5,2110.39 280,2110.96 281.5,2110.96 283,2111.9 284.5,2112.03 286,2111.7 287.5,2112.17 289,2111.78 290.5,2111.76 292,2112.17 293.5,2112.78 295,2112.31 296.5,2111.89 298,2112.47 299.5,2112.23 301,2112.18 302.5,2112.51 304,2111.85 305.5,2111.82 307,2111.92 308.5,2112.71 310,2112.38 311.5,2112.14 313,2112.1 314.5,2112.5 316,2112.66 317.5,2112.01 319,2112.3 320.5,2112.93 322,2112.35 323.5,2112.02 325,2112.2 326.5,2112.09 328,2112.24 329.5,2112.1 331,2111.8 332.5,2111.88 334,2112 335.5,2111.63 337,2111.84 338.5,2111.49 340,2112.13 341.5,2112.2 343,2111.4 344.5,2111.9 346,2111.66 347.5,2111.6 349,2111.46 350.5,2111.59 352,2111.79 353.5,2111.06 355,2111.73 356.5,2111.29 358,2111 359.5,2111.3 361,2111.48 362.5,2111.21 364,2111.3 365.5,2111.07 367,2110.97 368.5,2111.41 370,2110.77 371.5,2111.34 373,2111.1 374.5,2110.87 376,2110.85 377.5,2110.79 379,2110.83 380.5,2110.79 382,2110.72 383.5,2110.12 385,2110.03 386.5,2110.76 388,2110.42 389.5,2110.4 391,2110.49 392.5,2110.16 394,2110.95 395.5,2110.43 397,2110.33 398.5,2110.02 400,2110.59 401.5,2110.5 403,2110.71 404,2110.2 404.4,2374 547.3,2374 547.6,2097 548,2099.3 549.5,2102.07 551,2104.62 552.5,2107.08 554,2107.74 555.5,2108.8 557,2109.28 558.5,2109.9 560,2110.26 561.5,2110.02 563,2110.29 564.5,2109.98 566,2110.69 567.5,2110.47 569,2109.99 570.5,2110.83 572,2110.51 573.5,2110.18 575,2110.36 576.5,2110.3 578,2110.51 579.5,2110.53 581,2110.28 582.5,2110.58 584,2109.63 585.5,2110.32 587,2110.61 588.5,2110.69 590,2110.63 591.5,2110.05 593,2109.83 594.5,2110.23 596,2111.03 597.5,2110.39 599,2110.06 600.5,2109.75 602,2110.3 603.5,2110.09 605,2110.37 606.5,2110.26 608,2109.45 609.5,2110.12 611,2110.38 612.5,2109.93 614,2109.73 615.5,2109.72 617,2109.65 618.5,2110.71 620,2110.45 621.5,2109.81 623,2110.39 624.5,2109.62 626,2109.75 627.5,2109.66 629,2109.8 630.5,2110.02 632,2110.41 633.5,2109.98 635,2109.68 636.5,2109.72 638,2109.56 639.5,2109.7 641,2109.27 642.5,2109.57 644,2109.59 645.5,2109.69 647,2109.1 648.5,2109.43 650,2109.34 651.5,2108.95 653,2108.54 654.5,2108.93 656,2109.31 657.5,2108.91 659,2109.64 660.5,2109.06 662,2108.61 663.5,2108.75 665,2108.87 666.5,2108.82 668,2108.54 669.5,2108.7 671,2109.42 672.5,2108.74 674,2108.46 675.5,2108.21 677,2107.75 678.5,2108.31 680,2108.08 681.5,2108.14 683,2107.94 684.5,2108.29 686,2108.34 686,2108 686.4,2373.5 830.8,2373.5 831.2,2091 831.6,2092.3 833.1,2095.82 834.6,2098.96 836.1,2101.14 837.6,2102.26 839.1,2103.21 840.6,2103.28 842.1,2104.12 843.6,2104.97 845.1,2105.33 846.6,2105.55 848.1,2105.99 849.6,2106.24 851.1,2106.11 852.6,2105.96 854.1,2105.83 855.6,2106.41 857.1,2106.38 858.6,2106.46 860.1,2106.93 861.6,2106.46 863.1,2106.65 864.6,2107 866.1,2106.59 867.6,2106.26 869.1,2106.81 870.6,2107.28 872.1,2106.89 873.6,2107.05 875.1,2106.6 876.6,2107.58 878.1,2106.72 879.6,2107.08 881.1,2107.26 882.6,2107.94 884.1,2107.41 885.6,2107.18 887.1,2106.97 888.6,2107.35 890.1,2107.08 891.6,2107.28 893.1,2107.5 894.6,2107.87 896.1,2107.16 897.6,2107.92 899.1,2106.92 900.6,2108.1 902.1,2107.31 903.6,2107.4 905.1,2107.36 906.6,2107.58 908.1,2107.49 909.6,2107.41 911.1,2107.3 912.6,2107.34 914.1,2107.53 915.6,2107.35 917.1,2107.3 918.6,2107.07 920.1,2107.52 921.6,2107.66 923.1,2107.2 924.6,2107.81 926.1,2107.5 927.6,2107.54 929.1,2106.99 930.6,2107.7 932.1,2107.89 933.6,2108.1 935.1,2107.32 936.6,2107.49 938.1,2107.73 939.6,2107.67 941.1,2107.32 942.6,2107.53 944.1,2107.81 945.6,2107.68 947.1,2107.49 948.6,2107.83 950.1,2107.06 951.6,2107.64 953.1,2107.31 954.6,2107.4 956.1,2107.75 957.6,2108.04 959.1,2107.65 960.6,2107.55 962.1,2108.01 963.6,2107.74 965.1,2106.84 966.6,2107.33 968.1,2107.31 969.6,2107.31 971.1,2107.06 972.5,2107.5" fill="none" stroke="#d0272d" stroke-width="2.1" stroke-linejoin="round"/>
<polyline points="121.6,2376 130,2379 280.4,2379 281,1693 281.3,1694.52 282.6,1703.4 283.9,1708.06 285.2,1709.45 286.5,1710.21 287.8,1711.43 289.1,1712.44 290.4,1713.43 291.7,1714.35 293,1715.39 294.3,1715.6 295.6,1717.33 296.9,1719.07 298.2,1723.23 299.5,1728.06 300.8,1731.96 302.1,1736 303.4,1741.52 304.7,1745.8 306,1750.19 307.3,1754.01 308.6,1756.61 309.9,1760.48 311.2,1763.4 312.5,1767.71 313.8,1769.55 315.1,1772.16 316.4,1773.74 317.7,1775.63 319,1778.1 320.3,1780.3 321.6,1782.38 322.9,1782.57 324.2,1785.32 325.5,1785.96 326.7,1788 327,1851 327.3,1788.5 327.6,1787.97 328.9,1789.16 330.2,1790.12 331.5,1791.97 332.8,1793.41 334.1,1793.98 335.4,1794.23 336.7,1796.07 338,1796.97 339.3,1798.27 340.6,1798.53 341.9,1797.61 343.2,1799.07 344.5,1800.06 345.8,1801.88 347.1,1801.57 348.4,1803.1 349.7,1803.15 351,1802.43 352.3,1804.11 353.6,1805.16 354.9,1805.62 356.2,1804.53 357.5,1806.8 358.8,1806.46 360.1,1805.65 361.4,1807.53 362.7,1806.75 364,1807.81 365.3,1810.62 366.6,1811.94 367.9,1811.09 369.2,1810.92 370.5,1812.6 371.8,1811.57 373.1,1810.74 374.4,1809.74 375.7,1813.02 377,1810.47 378.3,1810.15 379.6,1812.3 380.9,1813.1 382.2,1812.42 383.5,1814.25 384.8,1813.38 386.1,1813.76 387.4,1814.08 388.7,1813.26 390,1814.07 391.3,1816.05 392.6,1813.23 393.9,1814.3 395.2,1814.7 396.5,1813.83 397.8,1814.35 399.1,1812.94 400.4,1814.17 401.7,1814.68 403,1815.73 404.3,1815.67 405.6,1814.4 406,1815 406.3,2379.5 551.6,2379.5 552,1806 553.5,1812 555.5,1850 557,1788 557.4,1786.95 558.7,1793.89 560,1797.51 561.3,1798.78 562.6,1802.63 563.9,1804.02 565.2,1805.89 566.5,1806.28 567.8,1808.67 569.1,1809.72 570.4,1811.09 571.7,1813.39 573,1813.8 574.3,1813.55 575.6,1813.97 576.9,1815.69 578.2,1817.52 579.5,1817.51 580.8,1816.3 582.1,1818.02 583.4,1817.51 584.7,1816.71 586,1817.76 587.3,1817.41 588.6,1816.57 589.9,1817.27 591.2,1817.88 592.5,1818.99 593.8,1816.92 595.1,1818.11 596.4,1817.95 597.7,1817.91 599,1816.87 600.3,1819.1 601.6,1819.1 602.9,1819.3 604.2,1818.17 605.5,1818.94 606.8,1817.91 608.1,1818.13 609.4,1816.71 610.7,1816.97 612,1816.23 613.3,1815.31 614.6,1815.61 615.9,1814.73 617.2,1814.48 618.5,1814.89 619.8,1814.46 621.1,1816.65 622.4,1816.14 623.7,1815.27 625,1814.74 626.3,1812.99 627.6,1813.74 628.9,1811.91 630.2,1812.37 631.5,1812.22 632.8,1812.05 634.1,1812.89 635.4,1811.13 636.7,1813.77 638,1810.88 639.3,1811.87 640.6,1809.45 641.9,1811.49 643.2,1809.35 644.5,1810.44 645.8,1810.06 647.1,1810.63 648.4,1810.25 649.7,1809.87 651,1809.2 652.3,1810.92 653.6,1808.55 654.9,1808.79 656.2,1808.16 657.5,1808.51 658.8,1807.31 660.1,1807.59 661.4,1808.2 662.7,1806.99 664,1807.7 665.3,1806.52 666.6,1808.09 667.9,1806.44 669.2,1807.9 670.5,1806.51 671.8,1805.68 673.1,1806.4 674.4,1806.34 675.7,1806.41 677,1806.02 678.3,1805.31 679.6,1803.18 680.9,1804.83 682.2,1803.65 683.5,1803.84 684.8,1804.36 686,1803 686.4,2379.5 830,2379.5" fill="none" stroke="#1f7f70" stroke-width="2.1" stroke-linejoin="round"/>
<polyline points="121.6,2362.46 123.6,2364.93 125.6,2367.73 127.6,2369.93 129.6,2371.47 131.6,2372.94 133.6,2373.84 135.6,2374.54 137.6,2375.13 139.6,2375.57 141.6,2375.68 143.6,2375.78 145.6,2375.98 147.6,2376.44 149.6,2376.6 151.6,2376.7 153.6,2376.57 155.6,2376.89 157.6,2376.97 159.6,2376.89 161.6,2376.92 163.6,2377.23 165.6,2377.15 167.6,2377.09 169.6,2377.03 171.6,2376.95 173.6,2376.96 175.6,2377.08 177.6,2376.91 179.6,2376.98 181.6,2377.18 183.6,2376.86 185.6,2376.91 187.6,2377.19 189.6,2377.04 191.6,2377.02 193.6,2376.91 195.6,2376.85 197.6,2377.13 199.6,2376.72 201.6,2377.05 203.6,2376.94 205.6,2376.99 207.6,2376.77 209.6,2377.1 211.6,2377.06 213.6,2377.03 215.6,2377.05 217.6,2376.85 219.6,2377.02 221.6,2377.05 223.6,2376.99 225.6,2376.66 227.6,2376.99 229.6,2377.01 231.6,2376.88 233.6,2377.01 235.6,2377.14 237.6,2376.99 239.6,2377.14 241.6,2376.94 243.6,2376.92 245.6,2377.03 247.6,2376.9 249.6,2376.81 251.6,2377.04 253.6,2377 255.6,2377.06 257.6,2376.9 259.6,2376.95 261.6,2377.05 263.6,2376.95 265.6,2376.98 266.27,2377 267.8,1925 268.2,1927.07 269.7,1941.81 271.2,1949.55 272.7,1954.08 274.2,1958.48 275.7,1962.25 277.2,1964.21 278.7,1966.12 280.2,1967.62 281.7,1969.34 283.2,1970.97 284.7,1972.06 286.2,1973.64 287.7,1974.6 289.2,1975.82 290.7,1976.43 292.2,1977.64 293.7,1978.63 295.2,1978.64 296.7,1979.6 298.2,1980.24 299.7,1980.85 301.2,1981.83 302.7,1981.89 304.2,1982.24 305.7,1982.6 307.2,1983.04 308.7,1983.96 310.2,1984.74 311.7,1984.89 313.2,1985.03 314.7,1985.64 316.2,1985.78 317.7,1986.78 319.2,1986.85 320.7,1987.63 322.2,1987.69 323.7,1988 325.2,1987.79 326.7,1988.56 328.2,1988.55 329.7,1988.77 331.2,1989.27 332.7,1990 334.2,1989.89 335.7,1990.63 337.2,1990.44 338.7,1990.01 340.2,1990.51 341.7,1991.52 343.2,1991.31 344.7,1991.35 346.2,1991.38 347.7,1991.77 349.2,1992.04 350.7,1991.95 352.2,1992.24 353.7,1992.51 355.2,1992.22 356.7,1992.64 358.2,1992.62 359.7,1992.79 361.2,1992.83 362.7,1993.03 364.2,1993.08 365.7,1994.02 367.2,1993.51 368.7,1993.78 370.2,1993.51 371.7,1993.9 373.2,1994.09 374.7,1994.55 376.2,1994.69 377.7,1994.07 379.2,1994.87 380.7,1994.4 382.2,1994.85 383.7,1994.51 385.2,1994.85 386.7,1994.66 388.2,1994.33 389.7,1995.02 391.2,1994.82 392.7,1994.95 394.2,1995.15 395.7,1995.31 397.2,1996.02 398.7,1994.96 400.2,1995.22 401.7,1995.16 403.2,1995.95 404.6,1995.6 405.4,2378.5 548,2378.5 548.4,1985 548.8,1985.93 550.3,1991.84 551.8,1995.64 553.3,1997.66 554.8,1999.1 556.3,1999.11 557.8,2000.14 559.3,2000.77 560.8,2000.75 562.3,2001.61 563.8,2001.39 565.3,2001.3 566.8,2001.53 568.3,2001.93 569.8,2002.2 571.3,2001.81 572.8,2002.23 574.3,2002.03 575.8,2001.93 577.3,2001.98 578.8,2002.6 580.3,2002.28 581.8,2002.54 583.3,2003.08 584.8,2002.93 586.3,2002.53 587.8,2002.63 589.3,2002.85 590.8,2002.14 592.3,2003.06 593.8,2002.67 595.3,2003.17 596.8,2002.74 598.3,2002.9 599.8,2003.3 601.3,2003.28 602.8,2003.69 604.3,2003 605.8,2002.99 607.3,2003.69 608.8,2003.42 610.3,2002.91 611.8,2003.17 613.3,2003.48 614.8,2003.23 616.3,2002.96 617.8,2003.48 619.3,2003.64 620.8,2003.95 622.3,2003.93 623.8,2003.88 625.3,2003.41 626.8,2003.32 628.3,2003.42 629.8,2003.96 631.3,2004.1 632.8,2003.26 634.3,2004.07 635.8,2004.21 637.3,2004.44 638.8,2004.24 640.3,2004.34 641.8,2004.14 643.3,2004.01 644.8,2004.09 646.3,2004.15 647.8,2003.84 649.3,2004.2 650.8,2004.58 652.3,2004.19 653.8,2004.72 655.3,2004.08 656.8,2004.53 658.3,2004.17 659.8,2004.79 661.3,2004.71 662.8,2004.82 664.3,2004.81 665.8,2004.74 667.3,2004.96 668.8,2004.71 670.3,2003.9 671.8,2004.75 673.3,2004.9 674.8,2004.04 676.3,2005.17 677.8,2004.81 679.3,2005.19 680.8,2004.81 682.3,2004.99 683.8,2004.7 685.3,2004.92 686,2005 686.6,2378.5 830.5,2378.5 831,1990 831.4,1990.52 832.9,1997.02 834.4,2000.46 835.9,2002.2 837.4,2003.53 838.9,2004.35 840.4,2005.08 841.9,2005.34 843.4,2005.53 844.9,2006.28 846.4,2005.71 847.9,2006.08 849.4,2005.95 850.9,2006.41 852.4,2006.55 853.9,2006.13 855.4,2006.9 856.9,2006.22 858.4,2006.77 859.9,2006.91 861.4,2006.65 862.9,2007.56 864.4,2007.24 865.9,2006.82 867.4,2007.41 868.9,2007.47 870.4,2007.21 871.9,2007.18 873.4,2007.78 874.9,2008.26 876.4,2007.65 877.9,2008.29 879.4,2007.1 880.9,2007.16 882.4,2007.74 883.9,2007.55 885.4,2007.86 886.9,2008.4 888.4,2007.51 889.9,2008 891.4,2007.88 892.9,2007.5 894.4,2007.86 895.9,2007.59 897.4,2007.89 898.9,2008.46 900.4,2008.34 901.9,2008.36 903.4,2008.08 904.9,2007.89 906.4,2008.73 907.9,2008.09 909.4,2008.24 910.9,2008.45 912.4,2008.08 913.9,2008.29 915.4,2008.14 916.9,2008.28 918.4,2008.47 919.9,2007.76 921.4,2008.23 922.9,2008.04 924.4,2008.16 925.9,2008.35 927.4,2008.71 928.9,2007.58 930.4,2008.8 931.9,2008.08 933.4,2008.01 934.9,2008.05 936.4,2008.35 937.9,2008.35 939.4,2007.75 940.9,2007.8 942.4,2008.64 943.9,2008.3 945.4,2007.73 946.9,2008.27 948.4,2008.26 949.9,2008.84 951.4,2008.12 952.9,2008.19 954.4,2008.25 955.9,2008.51 957.4,2008.56 958.9,2008.62 960.4,2008.98 961.9,2008.39 963.4,2008.95 964.9,2008.48 966.4,2008.71 967.9,2008.77 969.4,2009.05 970.9,2008.18 972.4,2009.21 972.5,2008.5" fill="none" stroke="#2e3192" stroke-width="2.6" stroke-linejoin="round"/>
<polyline points="121.6,2372.34 123.6,2373.55 125.6,2374.35 127.6,2375.12 129.6,2375.98 131.6,2376.33 133.6,2377.17 135.6,2377.44 137.6,2377.72 139.6,2378.05 141.6,2378 143.6,2378.31 145.6,2378.49 147.6,2378.61 149.6,2378.68 151.6,2378.63 153.6,2378.87 155.6,2378.8 157.6,2379.05 159.6,2379.04 161.6,2379.1 163.6,2379.33 165.6,2379.51 167.6,2379.51 169.6,2379.37 171.6,2379.4 173.6,2379.37 175.6,2379.43 177.6,2379.52 179.6,2379.55 181.6,2379.46 183.6,2379.51 185.6,2379.39 187.6,2379.45 189.6,2379.64 191.6,2379.65 193.6,2379.56 195.6,2379.52 197.6,2379.53 199.6,2379.44 201.6,2379.39 203.6,2379.56 205.6,2379.39 207.6,2379.55 209.6,2379.39 211.6,2379.5 213.6,2379.67 215.6,2379.57 217.6,2379.49 219.6,2379.53 221.6,2379.35 223.6,2379.6 225.6,2379.42 227.6,2379.42 229.6,2379.43 231.6,2379.51 233.6,2379.43 235.6,2379.44 237.6,2379.55 239.6,2379.52 241.6,2379.63 243.6,2379.58 245.6,2379.62 247.6,2379.39 249.6,2379.51 251.6,2379.56 253.6,2379.59 255.6,2379.47 257.6,2379.56 259.6,2379.61 261.6,2379.41 263.6,2379.42 265.6,2379.42 266.27,2379.5 267,2379.5 268.6,1738 269,1740.18 270.3,1775.73 271.6,1790.82 272.9,1799.14 274.2,1805.27 275.5,1810 276.8,1816.95 278.1,1819.08 279.4,1821.05 280.7,1821.01 282,1824.27 283.3,1824.69 284.6,1825.14 285.9,1826.55 287.2,1827.42 288.5,1829.62 289.8,1829.24 291.1,1829.7 292.4,1830.61 293.7,1831.13 295,1830.39 296.3,1832.55 297.6,1832.34 298.9,1833.34 300.2,1834.27 301.5,1833.31 302.8,1835.61 304.1,1834.18 305.4,1834.63 306.7,1833.69 308,1836.6 309.3,1835.88 310.6,1836 311.9,1836.38 313.2,1837.54 314.5,1838.27 315.8,1838.37 317.1,1838.04 318.4,1838.1 319.7,1837.6 321,1838.83 322.3,1839.96 323.6,1839.7 324.9,1841.69 326.2,1841.35 327.5,1840.8 328.8,1841.7 330.1,1841.82 331.4,1841.45 332.7,1842.08 334,1841.56 335.3,1842.71 336.6,1843.98 337.9,1843.22 339.2,1845.05 340.5,1843.99 341.8,1844.94 343.1,1845.03 344.4,1844.52 345.7,1844.46 347,1845.84 348.3,1846.36 349.6,1846.05 350.9,1846.23 352.2,1844.59 353.5,1846.38 354.8,1847.73 356.1,1848.06 357.4,1847.83 358.7,1847.25 360,1848.64 361.3,1848.04 362.6,1849.02 363.9,1849.69 365.2,1848.24 366.5,1848.91 367.8,1849.49 369.1,1849.79 370.4,1849.79 371.7,1850.51 373,1850.75 374.3,1849.89 375.6,1850.39 376.9,1851.36 378.2,1850.05 379.5,1850.56 380.8,1849.66 382.1,1850.66 383.4,1852.78 384.7,1853.05 386,1851.44 387.3,1853.11 388.6,1852.32 389.9,1852.4 391.2,1852.16 392.5,1853.17 393.8,1851.47 395.1,1853.63 396.4,1852.9 397.7,1852.86 399,1851.75 400.3,1854.77 401.6,1853.81 402.9,1853.54 404.2,1853.54 405.5,1854.29 406.2,1853.6 407,2380 549,2380 549.4,1781 549.8,1782.74 551.1,1790.85 552.4,1798.81 553.7,1804.36 555,1809.41 556.3,1815.19 557.6,1817.7 558.9,1821.11 560.2,1824.83 561.5,1828.33 562.8,1830.35 564.1,1830.41 565.4,1834.33 566.7,1833.6 568,1835.72 569.3,1837.68 570.6,1839.31 571.9,1840.38 573.2,1841.33 574.5,1840.74 575.8,1841.9 577.1,1843.97 578.4,1845.21 579.7,1845.7 581,1846.03 582.3,1847.39 583.6,1848.55 584.9,1846.48 586.2,1850.09 587.5,1851.09 588.8,1851.03 590.1,1850.74 591.4,1851.81 592.7,1852.4 594,1854.33 595.3,1853.56 596.6,1854.24 597.9,1854.62 599.2,1854.17 600.5,1853.65 601.8,1852.9 603.1,1853.57 604.4,1854.56 605.7,1854.55 607,1852.57 608.3,1853.56 609.6,1853.8 610.9,1854.25 612.2,1853.33 613.5,1853.27 614.8,1853.43 616.1,1853.64 617.4,1853.25 618.7,1852.58 620,1852.85 621.3,1852.98 622.6,1852.34 623.9,1852.46 625.2,1852.2 626.5,1851.03 627.8,1853.12 629.1,1851.53 630.4,1851.87 631.7,1852.36 633,1850.93 634.3,1849.81 635.6,1850.05 636.9,1849.21 638.2,1849.21 639.5,1849.67 640.8,1848.34 642.1,1848.97 643.4,1848.41 644.7,1849.01 646,1847.96 647.3,1847.88 648.6,1847.39 649.9,1846.31 651.2,1846.05 652.5,1845.27 653.8,1844.79 655.1,1846.71 656.4,1844.2 657.7,1845.41 659,1844.13 660.3,1843.19 661.6,1843.69 662.9,1843.95 664.2,1843.71 665.5,1843.55 666.8,1842.42 668.1,1842.46 669.4,1841.4 670.7,1841.02 672,1841.77 673.3,1841.62 674.6,1840.55 675.9,1840.41 677.2,1839.7 678.5,1839.85 679.8,1838.73 681.1,1839.36 682.4,1838.93 683.7,1838.54 685,1839.82 686.3,1837.54 686.6,1838 687,2380 830.5,2380 830.9,1748.6 831.2,1750.21 832.5,1758.04 833.8,1763.69 835.1,1769.2 836.4,1771.38 837.7,1775.17 839,1777.65 840.3,1781.05 841.6,1781.18 842.9,1785.6 844.2,1788.52 845.5,1788.99 846.8,1789.7 848.1,1792.42 849.4,1793.3 850.7,1796.56 852,1797.93 853.3,1798.8 854.6,1802.6 855.9,1802.9 857.2,1805.81 858.5,1806.15 859.8,1807.73 861.1,1808.69 862.4,1811.28 863.7,1812.42 865,1813.3 866.3,1816.58 867.6,1816.57 868.9,1819.45 870.2,1819.59 871.5,1819.41 872.8,1820.92 874.1,1823.41 875.4,1825.67 876.7,1825.49 878,1826.07 879.3,1827.24 880.6,1829.56 881.9,1830.77 883.2,1830.4 884.5,1830.61 885.8,1831.14 887.1,1833.16 888.4,1832.51 889.7,1833.85 891,1834.3 892.3,1836.23 893.6,1834.2 894.9,1835.21 896.2,1836.03 897.5,1837.68 898.8,1836.85 900.1,1838.21 901.4,1837.26 902.7,1836.69 904,1837.72 905.3,1839.5 906.6,1838.5 907.9,1838.35 909.2,1839.22 910.5,1839.03 911.8,1840.05 913.1,1840.21 914.4,1840.89 915.7,1840.78 917,1842.28 918.3,1839.57 919.6,1841.65 920.9,1838.64 922.2,1841.4 923.5,1840.47 924.8,1840.62 926.1,1840.42 927.4,1841.06 928.7,1840.39 930,1840.99 931.3,1840.16 932.6,1840.74 933.9,1841.48 935.2,1839.81 936.5,1839.5 937.8,1838.38 939.1,1838.8 940.4,1838.2 941.7,1837.4 943,1837.18 944.3,1838.97 945.6,1835.94 946.9,1836 948.2,1835.95 949.5,1836.44 950.8,1836 952.1,1836.31 953.4,1836.01 954.7,1835.57 956,1834.5 957.3,1834.54 958.6,1835.43 959.9,1835.26 961.2,1833.95 962.5,1834.33 963.8,1833.16 965.1,1832.79 966.4,1832.21 967.7,1833.58 969,1834.1 970.3,1832.57 971.6,1832.56 972.5,1832" fill="none" stroke="#a83ab0" stroke-width="2.4" stroke-linejoin="round"/>
<line x1="122.2" y1="1637.5" x2="122.2" y2="2410" stroke="#000" stroke-width="2.4"/>
<line x1="108" y1="1639.2" x2="973.9" y2="1639.2" stroke="#000" stroke-width="3.2"/>
<line x1="972.7" y1="1637.4" x2="972.7" y2="2410" stroke="#000" stroke-width="2.5"/>
<line x1="113" y1="2408.7" x2="973.9" y2="2408.7" stroke="#000" stroke-width="2.4"/>
<line x1="108" y1="2382.6" x2="122.2" y2="2382.6" stroke="#000" stroke-width="2"/>
<text transform="translate(99,2390.7) scale(0.81,1)" font-size="30.6" font-weight="normal" text-anchor="end" fill="#000">0.0</text>
<line x1="114.5" y1="2356.06" x2="122.2" y2="2356.06" stroke="#000" stroke-width="2"/>
<line x1="108" y1="2329.52" x2="122.2" y2="2329.52" stroke="#000" stroke-width="2"/>
<text transform="translate(99,2337.62) scale(0.81,1)" font-size="30.6" font-weight="normal" text-anchor="end" fill="#000">0.2</text>
<line x1="114.5" y1="2302.98" x2="122.2" y2="2302.98" stroke="#000" stroke-width="2"/>
<line x1="108" y1="2276.44" x2="122.2" y2="2276.44" stroke="#000" stroke-width="2"/>
<text transform="translate(99,2284.54) scale(0.81,1)" font-size="30.6" font-weight="normal" text-anchor="end" fill="#000">0.4</text>
<line x1="114.5" y1="2249.9" x2="122.2" y2="2249.9" stroke="#000" stroke-width="2"/>
<line x1="108" y1="2223.36" x2="122.2" y2="2223.36" stroke="#000" stroke-width="2"/>
<text transform="translate(99,2231.46) scale(0.81,1)" font-size="30.6" font-weight="normal" text-anchor="end" fill="#000">0.6</text>
<line x1="114.5" y1="2196.82" x2="122.2" y2="2196.82" stroke="#000" stroke-width="2"/>
<line x1="108" y1="2170.28" x2="122.2" y2="2170.28" stroke="#000" stroke-width="2"/>
<text transform="translate(99,2178.38) scale(0.81,1)" font-size="30.6" font-weight="normal" text-anchor="end" fill="#000">0.8</text>
<line x1="114.5" y1="2143.74" x2="122.2" y2="2143.74" stroke="#000" stroke-width="2"/>
<line x1="108" y1="2117.2" x2="122.2" y2="2117.2" stroke="#000" stroke-width="2"/>
<text transform="translate(99,2125.3) scale(0.81,1)" font-size="30.6" font-weight="normal" text-anchor="end" fill="#000">1.0</text>
<line x1="114.5" y1="2090.66" x2="122.2" y2="2090.66" stroke="#000" stroke-width="2"/>
<line x1="108" y1="2064.12" x2="122.2" y2="2064.12" stroke="#000" stroke-width="2"/>
<text transform="translate(99,2072.22) scale(0.81,1)" font-size="30.6" font-weight="normal" text-anchor="end" fill="#000">1.2</text>
<line x1="114.5" y1="2037.58" x2="122.2" y2="2037.58" stroke="#000" stroke-width="2"/>
<line x1="108" y1="2011.04" x2="122.2" y2="2011.04" stroke="#000" stroke-width="2"/>
<text transform="translate(99,2019.14) scale(0.81,1)" font-size="30.6" font-weight="normal" text-anchor="end" fill="#000">1.4</text>
<line x1="114.5" y1="1984.5" x2="122.2" y2="1984.5" stroke="#000" stroke-width="2"/>
<line x1="108" y1="1957.96" x2="122.2" y2="1957.96" stroke="#000" stroke-width="2"/>
<text transform="translate(99,1966.06) scale(0.81,1)" font-size="30.6" font-weight="normal" text-anchor="end" fill="#000">1.6</text>
<line x1="114.5" y1="1931.42" x2="122.2" y2="1931.42" stroke="#000" stroke-width="2"/>
<line x1="108" y1="1904.88" x2="122.2" y2="1904.88" stroke="#000" stroke-width="2"/>
<text transform="translate(99,1912.98) scale(0.81,1)" font-size="30.6" font-weight="normal" text-anchor="end" fill="#000">1.8</text>
<line x1="114.5" y1="1878.34" x2="122.2" y2="1878.34" stroke="#000" stroke-width="2"/>
<line x1="108" y1="1851.8" x2="122.2" y2="1851.8" stroke="#000" stroke-width="2"/>
<text transform="translate(99,1859.9) scale(0.81,1)" font-size="30.6" font-weight="normal" text-anchor="end" fill="#000">2.0</text>
<line x1="114.5" y1="1825.26" x2="122.2" y2="1825.26" stroke="#000" stroke-width="2"/>
<line x1="108" y1="1798.72" x2="122.2" y2="1798.72" stroke="#000" stroke-width="2"/>
<text transform="translate(99,1806.82) scale(0.81,1)" font-size="30.6" font-weight="normal" text-anchor="end" fill="#000">2.2</text>
<line x1="114.5" y1="1772.18" x2="122.2" y2="1772.18" stroke="#000" stroke-width="2"/>
<line x1="108" y1="1745.64" x2="122.2" y2="1745.64" stroke="#000" stroke-width="2"/>
<text transform="translate(99,1753.74) scale(0.81,1)" font-size="30.6" font-weight="normal" text-anchor="end" fill="#000">2.4</text>
<line x1="114.5" y1="1719.1" x2="122.2" y2="1719.1" stroke="#000" stroke-width="2"/>
<line x1="108" y1="1692.56" x2="122.2" y2="1692.56" stroke="#000" stroke-width="2"/>
<text transform="translate(99,1700.66) scale(0.81,1)" font-size="30.6" font-weight="normal" text-anchor="end" fill="#000">2.6</text>
<line x1="114.5" y1="1666.02" x2="122.2" y2="1666.02" stroke="#000" stroke-width="2"/>
<text transform="translate(99,1647.58) scale(0.81,1)" font-size="30.6" font-weight="normal" text-anchor="end" fill="#000">2.8</text>
<line x1="121.2" y1="2408.7" x2="121.2" y2="2425.6" stroke="#000" stroke-width="2.2"/>
<text transform="translate(121.2,2457.4) scale(0.85,1)" font-size="29.5" font-weight="normal" text-anchor="middle" fill="#000">0</text>
<line x1="192.14" y1="2408.7" x2="192.14" y2="2418" stroke="#000" stroke-width="2.2"/>
<line x1="263.08" y1="2408.7" x2="263.08" y2="2425.6" stroke="#000" stroke-width="2.2"/>
<text transform="translate(263.08,2457.4) scale(0.85,1)" font-size="29.5" font-weight="normal" text-anchor="middle" fill="#000">40</text>
<line x1="334.02" y1="2408.7" x2="334.02" y2="2418" stroke="#000" stroke-width="2.2"/>
<line x1="404.96" y1="2408.7" x2="404.96" y2="2425.6" stroke="#000" stroke-width="2.2"/>
<text transform="translate(404.96,2457.4) scale(0.85,1)" font-size="29.5" font-weight="normal" text-anchor="middle" fill="#000">80</text>
<line x1="475.9" y1="2408.7" x2="475.9" y2="2418" stroke="#000" stroke-width="2.2"/>
<line x1="546.84" y1="2408.7" x2="546.84" y2="2425.6" stroke="#000" stroke-width="2.2"/>
<text transform="translate(546.84,2457.4) scale(0.85,1)" font-size="29.5" font-weight="normal" text-anchor="middle" fill="#000">120</text>
<line x1="617.78" y1="2408.7" x2="617.78" y2="2418" stroke="#000" stroke-width="2.2"/>
<line x1="688.72" y1="2408.7" x2="688.72" y2="2425.6" stroke="#000" stroke-width="2.2"/>
<text transform="translate(688.72,2457.4) scale(0.85,1)" font-size="29.5" font-weight="normal" text-anchor="middle" fill="#000">160</text>
<line x1="759.66" y1="2408.7" x2="759.66" y2="2418" stroke="#000" stroke-width="2.2"/>
<line x1="830.6" y1="2408.7" x2="830.6" y2="2425.6" stroke="#000" stroke-width="2.2"/>
<text transform="translate(830.6,2457.4) scale(0.85,1)" font-size="29.5" font-weight="normal" text-anchor="middle" fill="#000">200</text>
<line x1="901.54" y1="2408.7" x2="901.54" y2="2418" stroke="#000" stroke-width="2.2"/>
<line x1="972.48" y1="2408.7" x2="972.48" y2="2425.6" stroke="#000" stroke-width="2.2"/>
<text transform="translate(972.48,2457.4) scale(0.85,1)" font-size="29.5" font-weight="normal" text-anchor="middle" fill="#000">240</text>
<text transform="translate(528.8,2488.1) scale(0.88,1)" font-size="31" font-weight="bold" text-anchor="middle" fill="#000">Time (s)</text>
<text transform="translate(35.3,1983.5) rotate(-90) scale(1.195,1)" font-size="26" font-weight="bold" text-anchor="middle">Current density (mA.cm<tspan font-size="14.5" dy="-14">-2</tspan><tspan dy="14">)</tspan></text>
<rect x="122.2" y="1640" width="138.8" height="160.8" fill="#fff" stroke="#000" stroke-width="1.6"/>
<line x1="125" y1="1660" x2="172.7" y2="1660" stroke="#1a1a1a" stroke-width="2.4"/>
<text transform="translate(178.7,1668.9) scale(0.82,1)" font-size="25.2" font-weight="bold" text-anchor="start" fill="#000">Prestine</text>
<line x1="125" y1="1691.9" x2="172.7" y2="1691.9" stroke="#d0272d" stroke-width="2.4"/>
<text transform="translate(178.7,1700.8) scale(0.82,1)" font-size="25.2" font-weight="bold" text-anchor="start" fill="#000">3 W</text>
<line x1="125" y1="1723.8" x2="172.7" y2="1723.8" stroke="#2e3192" stroke-width="3.6"/>
<text transform="translate(178.7,1732.7) scale(0.82,1)" font-size="25.2" font-weight="bold" text-anchor="start" fill="#000">5 W</text>
<line x1="125" y1="1755.7" x2="172.7" y2="1755.7" stroke="#1f7f70" stroke-width="2.4"/>
<text transform="translate(178.7,1764.6) scale(0.82,1)" font-size="25.2" font-weight="bold" text-anchor="start" fill="#000">7 W</text>
<line x1="125" y1="1787.6" x2="172.7" y2="1787.6" stroke="#a83ab0" stroke-width="2.8"/>
<text transform="translate(178.7,1796.5) scale(0.82,1)" font-size="25.2" font-weight="bold" text-anchor="start" fill="#000">9 W</text>
<text transform="translate(138,1856) scale(1,1)" font-size="56" fill="#111">c<tspan font-size="52" dy="-3">)</tspan></text>
</svg>
</body></html>
